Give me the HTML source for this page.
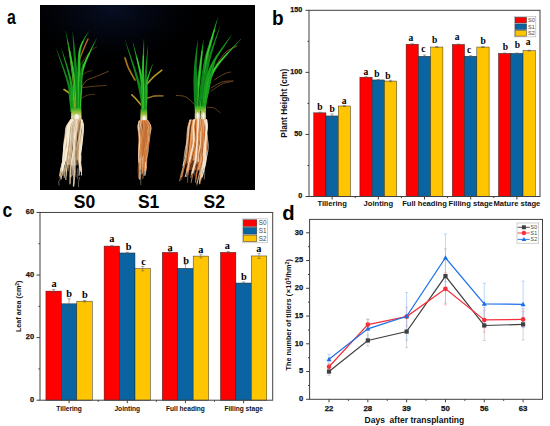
<!DOCTYPE html>
<html><head><meta charset="utf-8"><style>
html,body{margin:0;padding:0;background:#fff;}
svg{display:block;}
</style></head><body>
<svg width="550" height="426" viewBox="0 0 550 426">
<rect width="550" height="426" fill="#fff"/>
<text x="0" y="0" transform="translate(6.90,23.50) scale(0.8,1)" font-family='"Liberation Sans", sans-serif' font-size="19.8" font-weight="bold" fill="#000">a</text>
<text x="0" y="0" transform="translate(271.90,24.60) scale(0.93,1)" font-family='"Liberation Sans", sans-serif' font-size="20.5" font-weight="bold" fill="#000">b</text>
<text x="0" y="0" transform="translate(2.40,217.20) scale(0.9,1)" font-family='"Liberation Sans", sans-serif' font-size="19.5" font-weight="bold" fill="#000">c</text>
<text x="0" y="0" transform="translate(282.30,219.60) scale(1.04,1)" font-family='"Liberation Sans", sans-serif' font-size="19.5" font-weight="bold" fill="#000">d</text>
<rect x="40" y="5" width="215" height="185" fill="#000"/>
<defs><radialGradient id="glow" gradientUnits="userSpaceOnUse" cx="112" cy="8" r="60" gradientTransform="translate(112 8) scale(1.6 1) translate(-112 -8)"><stop offset="0" stop-color="#0a1430" stop-opacity="0.75"/><stop offset="0.5" stop-color="#050a1a" stop-opacity="0.5"/><stop offset="1" stop-color="#000" stop-opacity="0"/></radialGradient><linearGradient id="rootS0" x1="0" y1="0" x2="0" y2="1"><stop offset="0" stop-color="#d8b890"/><stop offset="0.6" stop-color="#c8a078"/><stop offset="1" stop-color="#806048" stop-opacity="0.5"/></linearGradient><linearGradient id="rootOr" x1="0" y1="0" x2="0" y2="1"><stop offset="0" stop-color="#d89a60"/><stop offset="0.6" stop-color="#c88048"/><stop offset="1" stop-color="#905838" stop-opacity="0.5"/></linearGradient><linearGradient id="stemg" x1="0" y1="0" x2="0" y2="1"><stop offset="0" stop-color="#20a020"/><stop offset="0.4" stop-color="#a8cc40"/><stop offset="0.7" stop-color="#e8e0b0"/><stop offset="1" stop-color="#d8b888"/></linearGradient></defs>
<rect x="40" y="5" width="215" height="185" fill="url(#glow)"/>
<path d="M79.60,91.00 L80.08,90.19 L80.69,89.06 L81.42,87.72 L82.24,86.25 L83.13,84.75 L84.07,83.31 L85.03,82.03 L86.00,81.00 L86.97,80.22 L87.97,79.62 L89.00,79.13 L90.07,78.73 L91.20,78.35 L92.39,77.97 L93.65,77.54 L95.00,77.00 L96.55,76.34 L98.33,75.58 L100.26,74.77 L102.21,73.95 L104.10,73.16 L105.81,72.44 L107.24,71.84 L108.30,71.40" stroke="#7a5020" stroke-width="0.9" fill="none" stroke-linecap="round" stroke-linejoin="round" opacity="1.0"/>
<path d="M79.60,88.00 L80.55,87.88 L81.79,87.72 L83.28,87.53 L84.93,87.32 L86.70,87.10 L88.50,86.88 L90.29,86.68 L92.00,86.50 L93.76,86.34 L95.70,86.17 L97.71,86.01 L99.72,85.86 L101.64,85.71 L103.37,85.59 L104.82,85.48 L105.90,85.40" stroke="#7a5020" stroke-width="0.8" fill="none" stroke-linecap="round" stroke-linejoin="round" opacity="1.0"/>
<path d="M80.00,99.00 L80.63,98.67 L81.47,98.20 L82.48,97.64 L83.60,97.04 L84.77,96.43 L85.93,95.85 L87.02,95.36 L88.00,95.00 L88.92,94.76 L89.86,94.60 L90.80,94.50 L91.70,94.45 L92.54,94.43 L93.29,94.43 L93.92,94.42 L94.40,94.40" stroke="#7a5020" stroke-width="0.7" fill="none" stroke-linecap="round" stroke-linejoin="round" opacity="1.0"/>
<path d="M81.00,76.00 L81.47,75.67 L82.10,75.22 L82.86,74.68 L83.69,74.09 L84.57,73.49 L85.44,72.91 L86.26,72.40 L87.00,72.00 L87.70,71.69 L88.42,71.43 L89.13,71.22 L89.83,71.05 L90.47,70.91 L91.05,70.79 L91.53,70.69 L91.90,70.60" stroke="#7a5020" stroke-width="0.7" fill="none" stroke-linecap="round" stroke-linejoin="round" opacity="1.0"/>
<path d="M79.30,60.00 L79.67,59.05 L80.16,57.77 L80.75,56.25 L81.40,54.56 L82.08,52.81 L82.76,51.07 L83.41,49.44 L84.00,48.00 L84.56,46.67 L85.14,45.33 L85.73,44.01 L86.29,42.75 L86.82,41.58 L87.30,40.55 L87.70,39.67 L88.00,39.00" stroke="#b85a1c" stroke-width="1.5" fill="none" stroke-linecap="round" stroke-linejoin="round" opacity="1.0"/>
<path d="M74.60,100.00 L74.16,99.44 L73.58,98.66 L72.88,97.73 L72.11,96.72 L71.30,95.68 L70.49,94.67 L69.71,93.76 L69.00,93.00 L68.31,92.37 L67.59,91.80 L66.86,91.28 L66.15,90.81 L65.48,90.40 L64.88,90.05 L64.38,89.75 L64.00,89.50" stroke="#c0a828" stroke-width="1.6" fill="none" stroke-linecap="round" stroke-linejoin="round" opacity="1.0"/>
<path d="M80.00,65.00 L80.80,63.94 L81.88,62.48 L83.17,60.73 L84.59,58.82 L86.07,56.88 L87.51,55.01 L88.85,53.34 L90.00,52.00 L91.02,50.94 L92.02,50.03 L92.98,49.25 L93.88,48.59 L94.69,48.03 L95.41,47.55 L96.02,47.15 L96.50,46.80" stroke="#7a5020" stroke-width="0.7" fill="none" stroke-linecap="round" stroke-linejoin="round" opacity="1.0"/>
<path d="M72.17,111.95 L72.18,111.05 L72.17,109.88 L72.14,108.49 L72.10,106.92 L72.05,105.23 L71.97,103.46 L71.88,101.65 L71.78,99.90 L71.73,98.27 L71.75,96.70 L71.77,95.09 L71.66,93.34 L71.44,91.41 L71.06,89.20 L70.47,86.65 L69.61,83.67 L68.38,79.93 L66.76,75.36 L64.89,70.29 L62.89,65.03 L60.91,59.90 L59.06,55.22 L57.48,51.31 L56.39,48.47 L56.21,48.53 L57.14,51.43 L58.40,55.45 L59.95,60.24 L61.66,65.47 L63.38,70.82 L65.00,75.97 L66.38,80.58 L67.39,84.33 L68.02,87.27 L68.42,89.73 L68.64,91.80 L68.74,93.59 L68.77,95.21 L68.87,96.77 L69.01,98.37 L69.22,100.10 L69.48,101.90 L69.72,103.67 L69.94,105.41 L70.15,107.08 L70.34,108.62 L70.52,110.00 L70.68,111.16 L70.83,112.05Z" fill="#10861a" opacity="1.0"/>
<path d="M73.63,111.97 L73.65,111.09 L73.67,109.99 L73.68,108.69 L73.68,107.20 L73.66,105.55 L73.62,103.77 L73.57,101.88 L73.50,99.93 L73.45,97.91 L73.44,95.79 L73.42,93.53 L73.29,91.13 L73.07,88.56 L72.73,85.82 L72.24,82.89 L71.56,79.75 L70.60,76.14 L69.36,71.96 L67.94,67.43 L66.43,62.82 L64.92,58.37 L63.52,54.33 L62.31,50.96 L61.50,48.47 L61.30,48.53 L61.99,51.06 L62.90,54.53 L64.01,58.65 L65.25,63.18 L66.51,67.86 L67.69,72.43 L68.70,76.65 L69.44,80.25 L69.93,83.32 L70.25,86.17 L70.44,88.82 L70.56,91.31 L70.63,93.65 L70.76,95.88 L70.91,98.01 L71.10,100.07 L71.32,102.05 L71.51,103.91 L71.69,105.67 L71.85,107.30 L71.99,108.77 L72.13,110.07 L72.25,111.16 L72.37,112.03Z" fill="#17a01c" opacity="1.0"/>
<path d="M75.22,111.99 L75.26,110.64 L75.30,108.79 L75.33,106.59 L75.36,104.18 L75.39,101.67 L75.42,99.22 L75.46,96.95 L75.51,95.02 L75.59,93.49 L75.71,92.23 L75.86,91.11 L76.00,90.01 L76.12,88.82 L76.19,87.46 L76.14,85.83 L75.96,83.83 L75.66,81.41 L75.26,78.65 L74.79,75.62 L74.27,72.43 L73.70,69.16 L73.12,65.91 L72.54,62.78 L71.98,59.84 L71.40,56.94 L70.78,53.91 L70.12,50.87 L69.47,47.90 L68.84,45.13 L68.25,42.65 L67.73,40.57 L67.40,38.98 L67.20,39.02 L67.45,40.62 L67.70,42.75 L68.02,45.28 L68.41,48.10 L68.82,51.10 L69.24,54.18 L69.65,57.24 L70.02,60.16 L70.39,63.11 L70.78,66.28 L71.20,69.54 L71.61,72.82 L72.00,76.02 L72.34,79.04 L72.63,81.79 L72.84,84.17 L72.96,86.08 L73.04,87.58 L73.09,88.80 L73.10,89.87 L73.08,90.90 L73.06,92.03 L73.05,93.36 L73.09,94.98 L73.16,96.96 L73.25,99.24 L73.34,101.69 L73.43,104.20 L73.52,106.62 L73.61,108.82 L73.70,110.66 L73.78,112.01Z" fill="#98ac1e" opacity="1.0"/>
<path d="M76.72,111.99 L76.78,110.73 L76.86,109.08 L76.93,107.13 L77.00,104.92 L77.04,102.53 L77.06,100.02 L77.04,97.45 L76.97,94.91 L76.88,92.43 L76.79,89.98 L76.66,87.47 L76.40,84.85 L76.06,82.04 L75.63,78.97 L75.09,75.59 L74.42,71.80 L73.56,67.25 L72.49,61.86 L71.27,55.95 L69.99,49.88 L68.72,44.00 L67.53,38.64 L66.50,34.16 L65.80,30.88 L65.60,30.92 L66.13,34.23 L66.80,38.78 L67.66,44.20 L68.61,50.14 L69.59,56.26 L70.53,62.21 L71.35,67.64 L71.98,72.20 L72.43,75.98 L72.78,79.35 L73.06,82.39 L73.29,85.16 L73.48,87.75 L73.73,90.21 L73.98,92.64 L74.23,95.09 L74.46,97.60 L74.64,100.12 L74.79,102.59 L74.90,104.95 L75.00,107.14 L75.09,109.09 L75.18,110.73 L75.28,112.01Z" fill="#17a01c" opacity="1.0"/>
<path d="M76.00,112.00 L75.98,110.73 L75.97,109.09 L75.97,107.13 L75.95,104.94 L75.91,102.56 L75.85,100.07 L75.75,97.53 L75.60,95.00 L75.43,92.54 L75.26,90.10 L75.07,87.61 L74.84,85.01 L74.56,82.21 L74.21,79.16 L73.76,75.78 L73.20,72.00 L72.46,67.45 L71.51,62.03 L70.43,56.11 L69.30,50.01" stroke="#48dc3c" stroke-width="1.12" fill="none" opacity="0.75"/>
<path d="M77.87,112.00 L77.95,110.36 L78.03,108.24 L78.12,105.71 L78.21,102.87 L78.27,99.79 L78.31,96.55 L78.32,93.24 L78.28,89.94 L78.20,86.54 L78.07,82.92 L77.89,79.15 L77.60,75.27 L77.26,71.35 L76.90,67.45 L76.53,63.62 L76.16,59.91 L75.76,56.13 L75.32,52.13 L74.86,48.06 L74.38,44.07 L73.91,40.32 L73.47,36.96 L73.06,34.13 L72.80,31.99 L72.60,32.01 L72.70,34.16 L72.77,37.01 L72.90,40.40 L73.07,44.18 L73.26,48.19 L73.46,52.28 L73.66,56.30 L73.84,60.09 L74.02,63.80 L74.22,67.65 L74.44,71.56 L74.67,75.48 L74.90,79.35 L75.20,83.11 L75.48,86.70 L75.72,90.06 L75.90,93.32 L76.05,96.60 L76.16,99.81 L76.24,102.88 L76.31,105.71 L76.38,108.23 L76.45,110.35 L76.53,112.00Z" fill="#10861a" opacity="1.0"/>
<path d="M79.22,112.01 L79.30,110.75 L79.38,109.14 L79.46,107.23 L79.55,105.07 L79.63,102.72 L79.72,100.22 L79.82,97.64 L79.91,95.01 L80.00,92.24 L80.08,89.24 L80.16,86.07 L80.24,82.79 L80.33,79.49 L80.43,76.22 L80.51,73.06 L80.57,70.03 L80.58,67.12 L80.54,64.27 L80.49,61.49 L80.44,58.79 L80.45,56.16 L80.55,53.62 L80.77,51.16 L81.15,48.79 L81.78,46.39 L82.67,43.89 L83.74,41.39 L84.89,38.97 L86.04,36.71 L87.08,34.67 L87.94,32.94 L88.59,31.65 L88.41,31.55 L87.69,32.80 L86.60,34.39 L85.33,36.29 L83.96,38.44 L82.57,40.77 L81.27,43.22 L80.13,45.72 L79.25,48.21 L78.63,50.73 L78.21,53.32 L77.93,55.98 L77.76,58.70 L77.66,61.46 L77.60,64.27 L77.53,67.11 L77.43,69.97 L77.33,72.97 L77.28,76.16 L77.30,79.45 L77.33,82.77 L77.37,86.05 L77.42,89.22 L77.46,92.23 L77.49,94.99 L77.52,97.61 L77.55,100.20 L77.58,102.70 L77.62,105.05 L77.65,107.21 L77.69,109.12 L77.73,110.73 L77.78,111.99Z" fill="#17a01c" opacity="1.0"/>
<path d="M78.50,112.00 L78.51,110.74 L78.53,109.13 L78.56,107.22 L78.58,105.06 L78.61,102.71 L78.64,100.21 L78.67,97.62 L78.70,95.00 L78.73,92.23 L78.75,89.23 L78.77,86.06 L78.79,82.78 L78.82,79.47 L78.86,76.19 L78.92,73.01 L79.00,70.00 L79.06,67.11 L79.07,64.27 L79.07,61.48 L79.10,58.74 L79.19,56.07 L79.38,53.47 L79.70,50.94 L80.20,48.50 L80.95,46.05 L81.97,43.56 L83.16,41.08" stroke="#48dc3c" stroke-width="1.12" fill="none" opacity="0.75"/>
<path d="M80.72,112.02 L80.83,110.76 L80.94,109.16 L81.04,107.26 L81.16,105.11 L81.30,102.77 L81.46,100.29 L81.65,97.71 L81.87,95.05 L82.06,92.28 L82.17,89.39 L82.24,86.39 L82.26,83.29 L82.37,80.10 L82.61,76.81 L83.06,73.44 L83.78,69.99 L84.93,66.15 L86.52,61.80 L88.40,57.18 L90.41,52.52 L92.40,48.05 L94.22,43.99 L95.70,40.56 L96.79,38.04 L96.61,37.96 L95.36,40.40 L93.55,43.66 L91.43,47.57 L89.15,51.91 L86.86,56.45 L84.70,61.00 L82.84,65.32 L81.42,69.21 L80.45,72.82 L79.78,76.35 L79.36,79.80 L79.14,83.13 L79.05,86.33 L79.10,89.38 L79.15,92.26 L79.13,94.95 L79.07,97.57 L79.04,100.19 L79.05,102.70 L79.07,105.06 L79.12,107.22 L79.17,109.13 L79.23,110.73 L79.28,111.98Z" fill="#2cb02a" opacity="1.0"/>
<path d="M80.00,112.00 L80.03,110.75 L80.05,109.14 L80.08,107.24 L80.12,105.09 L80.17,102.74 L80.25,100.24 L80.36,97.64 L80.50,95.00 L80.60,92.27 L80.63,89.39 L80.64,86.36 L80.70,83.21 L80.86,79.95 L81.19,76.58 L81.75,73.13 L82.60,69.60 L83.88,65.73 L85.61,61.40 L87.63,56.82 L89.78,52.21" stroke="#48dc3c" stroke-width="1.12" fill="none" opacity="0.75"/>
<path d="M79.54,112.02 L79.66,110.46 L79.80,108.36 L79.95,105.86 L80.11,103.09 L80.28,100.19 L80.46,97.30 L80.64,94.54 L80.83,92.05 L81.01,89.78 L81.19,87.56 L81.36,85.39 L81.47,83.27 L81.57,81.19 L81.67,79.14 L81.79,77.12 L81.92,75.12 L82.10,73.05 L82.33,70.88 L82.58,68.68 L82.84,66.53 L83.09,64.51 L83.29,62.70 L83.44,61.17 L83.60,60.02 L83.40,59.98 L83.16,61.12 L82.75,62.60 L82.29,64.36 L81.81,66.34 L81.32,68.46 L80.86,70.64 L80.43,72.80 L80.08,74.88 L79.78,76.90 L79.53,78.94 L79.31,81.01 L79.12,83.11 L78.97,85.24 L78.89,87.43 L78.83,89.66 L78.77,91.95 L78.71,94.44 L78.65,97.22 L78.59,100.12 L78.54,103.03 L78.50,105.81 L78.47,108.31 L78.46,110.41 L78.46,111.98Z" fill="#10861a" opacity="1.0"/>
<path d="M71.31,111.99 L71.33,111.05 L71.33,109.78 L71.32,108.27 L71.31,106.60 L71.29,104.86 L71.27,103.11 L71.25,101.46 L71.18,99.97 L71.08,98.55 L70.95,97.10 L70.81,95.64 L70.65,94.23 L70.49,92.91 L70.33,91.74 L70.16,90.75 L70.10,89.99 L69.90,90.01 L69.92,90.76 L69.85,91.76 L69.81,92.95 L69.78,94.27 L69.77,95.69 L69.78,97.15 L69.79,98.62 L69.82,100.03 L69.88,101.52 L70.00,103.17 L70.13,104.91 L70.25,106.65 L70.37,108.31 L70.49,109.81 L70.59,111.08 L70.69,112.01Z" fill="#17a01c" opacity="1.0"/>
<path d="M71.30,107.50 L81.30,107.50 L81.60,120.50 L71.00,120.50 Z" fill="url(#stemg)" opacity="0.95"/>
<ellipse cx="76.80" cy="117.00" rx="2.20" ry="3.04" fill="#ffffff" opacity="0.75"/>
<path d="M147.00,84.00 L147.53,83.41 L148.24,82.62 L149.08,81.68 L150.01,80.64 L151.01,79.55 L152.03,78.47 L153.04,77.43 L154.00,76.50 L154.99,75.61 L156.08,74.69 L157.21,73.77 L158.34,72.88 L159.41,72.05 L160.38,71.30 L161.19,70.68 L161.80,70.20" stroke="#b09a24" stroke-width="1.6" fill="none" stroke-linecap="round" stroke-linejoin="round" opacity="1.0"/>
<path d="M135.00,80.00 L134.48,79.06 L133.76,77.80 L132.91,76.30 L131.97,74.63 L131.00,72.89 L130.07,71.15 L129.21,69.49 L128.50,68.00 L127.90,66.58 L127.33,65.10 L126.81,63.63 L126.34,62.20 L125.92,60.86 L125.56,59.67 L125.25,58.67 L125.00,57.90" stroke="#a8781c" stroke-width="1.7" fill="none" stroke-linecap="round" stroke-linejoin="round" opacity="1.0"/>
<path d="M147.30,98.00 L147.89,97.83 L148.68,97.60 L149.61,97.32 L150.65,97.01 L151.75,96.71 L152.87,96.42 L153.97,96.18 L155.00,96.00 L156.04,95.89 L157.17,95.82 L158.33,95.78 L159.48,95.78 L160.57,95.78 L161.56,95.79 L162.38,95.80 L163.00,95.80" stroke="#b09028" stroke-width="1.3" fill="none" stroke-linecap="round" stroke-linejoin="round" opacity="1.0"/>
<path d="M142.00,106.00 L141.53,105.44 L140.88,104.68 L140.11,103.77 L139.27,102.77 L138.39,101.73 L137.52,100.72 L136.71,99.79 L136.00,99.00 L135.35,98.30 L134.70,97.63 L134.07,97.00 L133.47,96.41 L132.92,95.88 L132.43,95.41 L132.02,95.01 L131.70,94.70" stroke="#b8a028" stroke-width="1.5" fill="none" stroke-linecap="round" stroke-linejoin="round" opacity="1.0"/>
<path d="M147.30,99.00 L147.89,98.71 L148.68,98.29 L149.62,97.79 L150.67,97.25 L151.77,96.71 L152.89,96.21 L153.98,95.79 L155.00,95.50 L156.02,95.33 L157.11,95.25 L158.23,95.24 L159.33,95.28 L160.38,95.35 L161.32,95.42 L162.11,95.48 L162.70,95.50" stroke="#7a5020" stroke-width="0.7" fill="none" stroke-linecap="round" stroke-linejoin="round" opacity="1.0"/>
<path d="M142.63,112.98 L142.65,111.61 L142.68,109.81 L142.71,107.65 L142.71,105.24 L142.68,102.66 L142.59,100.00 L142.43,97.35 L142.19,94.81 L141.88,92.44 L141.53,90.13 L141.12,87.84 L140.57,85.51 L139.91,83.06 L139.15,80.42 L138.26,77.52 L137.24,74.29 L135.97,70.42 L134.41,65.87 L132.69,60.91 L130.88,55.83 L129.11,50.92 L127.47,46.45 L126.07,42.71 L125.10,39.97 L124.90,40.03 L125.75,42.82 L126.86,46.65 L128.21,51.21 L129.72,56.22 L131.27,61.38 L132.76,66.40 L134.09,71.01 L135.16,74.91 L136.00,78.17 L136.73,81.09 L137.36,83.73 L137.91,86.17 L138.40,88.46 L138.90,90.67 L139.37,92.89 L139.81,95.19 L140.19,97.63 L140.49,100.18 L140.71,102.78 L140.89,105.31 L141.02,107.70 L141.14,109.84 L141.25,111.64 L141.37,113.02Z" fill="#10861a" opacity="1.0"/>
<path d="M143.67,112.99 L143.72,111.62 L143.77,109.81 L143.81,107.66 L143.84,105.25 L143.86,102.69 L143.86,100.05 L143.84,97.43 L143.78,94.93 L143.74,92.59 L143.72,90.29 L143.68,87.97 L143.53,85.58 L143.29,83.08 L142.94,80.41 L142.47,77.53 L141.84,74.37 L140.98,70.68 L139.87,66.39 L138.61,61.74 L137.27,57.01 L135.94,52.44 L134.70,48.30 L133.62,44.83 L132.90,42.28 L132.70,42.32 L133.28,44.92 L134.03,48.47 L134.96,52.70 L136.00,57.34 L137.06,62.13 L138.06,66.82 L138.92,71.14 L139.56,74.83 L139.98,77.94 L140.28,80.77 L140.47,83.37 L140.60,85.80 L140.69,88.13 L140.85,90.41 L141.02,92.70 L141.22,95.07 L141.42,97.55 L141.60,100.13 L141.75,102.75 L141.88,105.30 L142.00,107.69 L142.11,109.84 L142.22,111.64 L142.33,113.01Z" fill="#17a01c" opacity="1.0"/>
<path d="M143.00,113.00 L142.97,111.63 L142.94,109.82 L142.91,107.67 L142.86,105.27 L142.80,102.72 L142.73,100.09 L142.63,97.49 L142.50,95.00 L142.38,92.65 L142.28,90.35 L142.19,88.05 L142.06,85.69 L141.88,83.23 L141.61,80.59 L141.23,77.74 L140.70,74.60 L139.95,70.91 L138.97,66.60 L137.84,61.94 L136.64,57.17" stroke="#48dc3c" stroke-width="1.05" fill="none" opacity="0.75"/>
<path d="M144.72,112.99 L144.79,111.62 L144.86,109.82 L144.93,107.67 L145.00,105.27 L145.06,102.70 L145.11,100.07 L145.15,97.46 L145.17,94.95 L145.16,92.58 L145.11,90.32 L145.02,88.08 L144.83,85.81 L144.63,83.40 L144.43,80.79 L144.27,77.88 L144.14,74.62 L144.07,70.66 L144.05,65.96 L144.07,60.83 L144.10,55.55 L144.12,50.43 L144.13,45.77 L144.09,41.86 L144.10,39.00 L143.90,39.00 L143.71,41.84 L143.39,45.74 L143.04,50.39 L142.69,55.50 L142.36,60.77 L142.07,65.90 L141.83,70.61 L141.66,74.58 L141.58,77.90 L141.57,80.86 L141.61,83.54 L141.71,85.99 L141.83,88.30 L142.05,90.53 L142.26,92.75 L142.43,95.05 L142.57,97.52 L142.70,100.11 L142.81,102.73 L142.91,105.28 L143.01,107.68 L143.10,109.83 L143.19,111.63 L143.28,113.01Z" fill="#17a01c" opacity="1.0"/>
<path d="M144.00,113.00 L143.99,111.63 L143.98,109.82 L143.97,107.67 L143.96,105.27 L143.94,102.72 L143.90,100.09 L143.86,97.49 L143.80,95.00 L143.71,92.67 L143.58,90.43 L143.43,88.19 L143.27,85.90 L143.12,83.47 L143.00,80.82 L142.92,77.89 L142.90,74.60 L142.95,70.63 L143.06,65.93 L143.21,60.80 L143.39,55.52" stroke="#48dc3c" stroke-width="1.12" fill="none" opacity="0.75"/>
<path d="M145.63,113.02 L145.74,111.65 L145.87,109.85 L146.00,107.70 L146.15,105.30 L146.29,102.74 L146.43,100.12 L146.57,97.51 L146.70,95.02 L146.81,92.63 L146.89,90.27 L146.94,87.90 L146.91,85.49 L146.88,83.00 L146.85,80.40 L146.85,77.63 L146.88,74.66 L146.98,71.26 L147.13,67.34 L147.33,63.14 L147.53,58.87 L147.72,54.77 L147.88,51.04 L147.98,47.91 L148.10,45.61 L147.90,45.59 L147.65,47.88 L147.24,50.99 L146.78,54.69 L146.31,58.78 L145.84,63.02 L145.40,67.21 L145.02,71.12 L144.72,74.54 L144.50,77.53 L144.34,80.33 L144.24,82.97 L144.17,85.48 L144.15,87.90 L144.20,90.27 L144.26,92.62 L144.30,94.98 L144.31,97.46 L144.32,100.06 L144.32,102.69 L144.32,105.25 L144.32,107.65 L144.32,109.80 L144.34,111.61 L144.37,112.98Z" fill="#10861a" opacity="1.0"/>
<path d="M146.54,113.01 L146.64,111.60 L146.75,109.68 L146.87,107.40 L147.00,104.88 L147.14,102.25 L147.27,99.65 L147.40,97.20 L147.53,95.01 L147.62,93.09 L147.65,91.33 L147.65,89.70 L147.59,88.14 L147.55,86.60 L147.57,85.03 L147.67,83.35 L147.90,81.52 L148.33,79.39 L148.94,76.95 L149.68,74.35 L150.48,71.72 L151.26,69.19 L151.97,66.89 L152.54,64.95 L152.99,63.53 L152.81,63.47 L152.27,64.85 L151.45,66.70 L150.50,68.91 L149.49,71.36 L148.47,73.93 L147.53,76.49 L146.71,78.91 L146.10,81.08 L145.69,83.01 L145.43,84.80 L145.29,86.49 L145.24,88.13 L145.25,89.76 L145.35,91.40 L145.44,93.13 L145.47,94.99 L145.47,97.14 L145.46,99.59 L145.45,102.20 L145.43,104.83 L145.43,107.36 L145.43,109.65 L145.44,111.57 L145.46,112.99Z" fill="#2cb02a" opacity="1.0"/>
<path d="M140.55,109.00 L147.05,109.00 L147.35,122.50 L140.25,122.50 Z" fill="url(#stemg)" opacity="0.95"/>
<ellipse cx="144.12" cy="118.75" rx="1.43" ry="3.23" fill="#ffffff" opacity="0.75"/>
<path d="M211.00,88.00 L211.85,87.50 L212.98,86.80 L214.33,85.97 L215.83,85.06 L217.41,84.15 L219.01,83.29 L220.56,82.55 L222.00,82.00 L223.42,81.63 L224.95,81.38 L226.50,81.21 L228.04,81.12 L229.48,81.08 L230.78,81.06 L231.88,81.04 L232.70,81.00" stroke="#7a5020" stroke-width="0.9" fill="none" stroke-linecap="round" stroke-linejoin="round" opacity="1.0"/>
<path d="M214.00,80.00 L214.79,79.51 L215.88,78.83 L217.17,78.01 L218.59,77.12 L220.06,76.22 L221.50,75.36 L222.84,74.60 L224.00,74.00 L225.03,73.54 L226.04,73.17 L227.01,72.87 L227.93,72.62 L228.76,72.43 L229.49,72.27 L230.11,72.13 L230.60,72.00" stroke="#7a5020" stroke-width="0.8" fill="none" stroke-linecap="round" stroke-linejoin="round" opacity="1.0"/>
<path d="M211.30,91.00 L212.12,90.43 L213.21,89.65 L214.51,88.71 L215.95,87.69 L217.48,86.64 L219.04,85.63 L220.57,84.73 L222.00,84.00 L223.45,83.41 L225.03,82.90 L226.66,82.45 L228.27,82.06 L229.80,81.73 L231.18,81.45 L232.33,81.20 L233.20,81.00" stroke="#7a5020" stroke-width="0.8" fill="none" stroke-linecap="round" stroke-linejoin="round" opacity="1.0"/>
<path d="M196.00,106.00 L195.23,105.25 L194.19,104.21 L192.96,102.95 L191.60,101.59 L190.16,100.22 L188.71,98.93 L187.30,97.83 L186.00,97.00 L184.72,96.44 L183.35,96.06 L181.95,95.82 L180.57,95.69 L179.28,95.62 L178.12,95.59 L177.14,95.56 L176.40,95.50" stroke="#7a5020" stroke-width="0.9" fill="none" stroke-linecap="round" stroke-linejoin="round" opacity="1.0"/>
<path d="M207.30,107.30 L207.82,107.33 L208.52,107.33 L209.35,107.34 L210.28,107.36 L211.24,107.41 L212.22,107.53 L213.15,107.72 L214.00,108.00 L214.82,108.43 L215.69,109.00 L216.56,109.68 L217.42,110.39 L218.22,111.11 L218.94,111.76 L219.54,112.31 L220.00,112.70" stroke="#7a5020" stroke-width="0.8" fill="none" stroke-linecap="round" stroke-linejoin="round" opacity="1.0"/>
<path d="M216.00,65.00 L216.76,63.95 L217.77,62.50 L218.97,60.77 L220.31,58.87 L221.74,56.93 L223.20,55.06 L224.63,53.37 L226.00,52.00 L227.40,50.88 L228.94,49.89 L230.54,49.01 L232.12,48.24 L233.64,47.57 L235.00,46.99 L236.14,46.51 L237.00,46.10" stroke="#7a5020" stroke-width="1.0" fill="none" stroke-linecap="round" stroke-linejoin="round" opacity="1.0"/>
<path d="M206.00,80.00 L206.15,78.27 L206.36,75.93 L206.60,73.14 L206.88,70.06 L207.16,66.85 L207.45,63.66 L207.74,60.66 L208.00,58.00 L208.26,55.52 L208.55,53.00 L208.84,50.51 L209.12,48.12 L209.40,45.91 L209.64,43.94 L209.85,42.28 L210.00,41.00" stroke="#7a5020" stroke-width="1.2" fill="none" stroke-linecap="round" stroke-linejoin="round" opacity="1.0"/>
<path d="M196.22,110.98 L196.26,109.38 L196.27,107.29 L196.27,104.81 L196.26,102.03 L196.26,99.07 L196.28,96.00 L196.31,92.95 L196.37,90.00 L196.45,87.07 L196.54,84.05 L196.63,80.95 L196.63,77.80 L196.64,74.61 L196.65,71.42 L196.68,68.23 L196.74,65.08 L196.84,61.77 L197.01,58.20 L197.22,54.51 L197.43,50.86 L197.63,47.41 L197.79,44.29 L197.89,41.67 L198.00,39.71 L197.80,39.69 L197.51,41.63 L197.06,44.21 L196.55,47.29 L196.03,50.71 L195.52,54.34 L195.03,58.01 L194.61,61.59 L194.26,64.92 L194.00,68.10 L193.78,71.31 L193.62,74.53 L193.50,77.74 L193.43,80.91 L193.48,84.03 L193.55,87.06 L193.63,90.00 L193.73,92.97 L193.86,96.04 L194.01,99.12 L194.17,102.09 L194.34,104.87 L194.50,107.35 L194.65,109.43 L194.78,111.02Z" fill="#10861a" opacity="1.0"/>
<path d="M198.22,111.01 L198.33,109.41 L198.43,107.33 L198.53,104.85 L198.64,102.08 L198.77,99.12 L198.93,96.07 L199.13,93.03 L199.37,90.10 L199.66,87.19 L200.00,84.18 L200.36,81.09 L200.65,77.94 L200.94,74.74 L201.22,71.52 L201.49,68.31 L201.73,65.14 L201.99,61.81 L202.27,58.22 L202.57,54.52 L202.85,50.87 L203.11,47.41 L203.32,44.30 L203.45,41.68 L203.60,39.71 L203.40,39.69 L203.08,41.63 L202.58,44.21 L202.04,47.28 L201.46,50.70 L200.87,54.32 L200.30,57.99 L199.76,61.55 L199.27,64.86 L198.81,68.02 L198.37,71.21 L197.94,74.41 L197.54,77.60 L197.18,80.77 L196.94,83.89 L196.77,86.94 L196.63,89.90 L196.55,92.89 L196.51,95.98 L196.52,99.06 L196.55,102.04 L196.60,104.83 L196.66,107.31 L196.72,109.40 L196.78,110.99Z" fill="#17a01c" opacity="1.0"/>
<path d="M197.50,111.00 L197.52,109.41 L197.54,107.32 L197.56,104.84 L197.59,102.06 L197.64,99.09 L197.72,96.02 L197.84,92.96 L198.00,90.00 L198.21,87.07 L198.47,84.04 L198.77,80.93 L199.09,77.77 L199.44,74.57 L199.79,71.36 L200.15,68.17 L200.50,65.00 L200.87,61.68 L201.29,58.10 L201.72,54.42 L202.16,50.79" stroke="#48dc3c" stroke-width="1.12" fill="none" opacity="0.75"/>
<path d="M200.76,111.05 L200.92,109.48 L201.09,107.48 L201.28,105.11 L201.49,102.44 L201.74,99.54 L202.03,96.48 L202.37,93.33 L202.78,90.15 L203.25,86.80 L203.78,83.13 L204.37,79.27 L205.00,75.29 L205.66,71.31 L206.35,67.43 L207.01,63.75 L207.63,60.35 L208.25,57.24 L208.91,54.30 L209.60,51.50 L210.29,48.80 L210.99,46.16 L211.69,43.55 L212.37,40.93 L213.02,38.28 L213.68,35.50 L214.38,32.55 L215.09,29.56 L215.78,26.63 L216.42,23.87 L216.97,21.39 L217.41,19.30 L217.80,17.73 L217.60,17.67 L217.12,19.21 L216.40,21.23 L215.57,23.63 L214.67,26.32 L213.73,29.18 L212.78,32.11 L211.86,34.99 L210.98,37.72 L210.14,40.30 L209.28,42.83 L208.42,45.38 L207.56,47.99 L206.71,50.68 L205.89,53.49 L205.11,56.47 L204.37,59.65 L203.68,63.11 L203.05,66.86 L202.48,70.80 L201.94,74.83 L201.44,78.85 L200.98,82.76 L200.57,86.45 L200.22,89.85 L199.95,93.07 L199.73,96.27 L199.57,99.38 L199.45,102.31 L199.36,105.01 L199.31,107.39 L199.27,109.40 L199.24,110.95Z" fill="#17a01c" opacity="1.0"/>
<path d="M200.00,111.00 L200.10,109.44 L200.20,107.44 L200.32,105.06 L200.47,102.38 L200.65,99.46 L200.88,96.38 L201.16,93.20 L201.50,90.00 L201.91,86.63 L202.38,82.95 L202.90,79.06 L203.47,75.06 L204.07,71.06 L204.70,67.15 L205.35,63.43 L206.00,60.00 L206.68,56.86 L207.40,53.90 L208.15,51.09 L208.92,48.39 L209.71,45.77 L210.49,43.19 L211.25,40.61 L212.00,38.00 L212.77,35.24 L213.58,32.33 L214.41,29.37" stroke="#48dc3c" stroke-width="1.19" fill="none" opacity="0.75"/>
<path d="M202.72,111.04 L202.89,109.48 L203.06,107.47 L203.24,105.11 L203.45,102.44 L203.70,99.54 L204.01,96.49 L204.39,93.36 L204.86,90.19 L205.39,86.92 L205.97,83.47 L206.59,79.87 L207.18,76.12 L207.82,72.27 L208.52,68.34 L209.31,64.35 L210.19,60.33 L211.29,56.00 L212.63,51.19 L214.12,46.15 L215.66,41.10 L217.15,36.29 L218.48,31.93 L219.57,28.25 L220.39,25.53 L220.21,25.47 L219.21,28.13 L217.78,31.68 L216.12,35.93 L214.33,40.65 L212.50,45.60 L210.74,50.58 L209.14,55.34 L207.81,59.67 L206.70,63.71 L205.72,67.72 L204.86,71.68 L204.10,75.57 L203.44,79.35 L202.94,83.01 L202.52,86.50 L202.14,89.81 L201.83,93.04 L201.61,96.26 L201.45,99.37 L201.36,102.31 L201.31,105.01 L201.29,107.40 L201.29,109.41 L201.28,110.96Z" fill="#10861a" opacity="1.0"/>
<path d="M204.22,111.04 L204.38,109.62 L204.52,107.80 L204.67,105.66 L204.86,103.25 L205.09,100.64 L205.40,97.90 L205.81,95.09 L206.35,92.24 L206.96,89.28 L207.57,86.17 L208.22,82.93 L208.87,79.58 L209.63,76.15 L210.56,72.66 L211.70,69.12 L213.10,65.57 L214.98,61.72 L217.39,57.45 L220.13,52.96 L223.01,48.47 L225.83,44.17 L228.40,40.28 L230.52,36.98 L232.08,34.56 L231.92,34.44 L230.21,36.77 L227.80,39.85 L224.95,43.54 L221.86,47.66 L218.72,52.00 L215.72,56.37 L213.05,60.57 L210.90,64.43 L209.23,68.07 L207.85,71.71 L206.73,75.31 L205.82,78.85 L205.09,82.30 L204.55,85.62 L204.09,88.79 L203.65,91.76 L203.26,94.68 L203.00,97.62 L202.85,100.45 L202.77,103.13 L202.75,105.58 L202.76,107.74 L202.78,109.56 L202.78,110.96Z" fill="#17a01c" opacity="1.0"/>
<path d="M205.72,111.05 L205.88,109.86 L206.01,108.37 L206.15,106.61 L206.32,104.63 L206.55,102.47 L206.87,100.18 L207.28,97.78 L207.85,95.26 L208.45,92.59 L209.01,89.79 L209.58,86.87 L210.17,83.84 L210.93,80.70 L211.93,77.46 L213.27,74.13 L215.02,70.70 L217.51,66.89 L220.77,62.57 L224.52,57.99 L228.48,53.37 L232.39,48.92 L235.96,44.88 L238.92,41.47 L241.07,38.97 L240.93,38.83 L238.64,41.21 L235.42,44.38 L231.60,48.18 L227.45,52.41 L223.25,56.85 L219.26,61.28 L215.75,65.49 L212.98,69.30 L210.91,72.83 L209.30,76.32 L208.07,79.74 L207.14,83.05 L206.45,86.23 L205.98,89.26 L205.58,92.10 L205.15,94.74 L204.75,97.30 L204.47,99.84 L204.31,102.25 L204.24,104.49 L204.23,106.52 L204.25,108.31 L204.27,109.80 L204.28,110.95Z" fill="#2cb02a" opacity="1.0"/>
<path d="M205.00,111.00 L205.07,109.83 L205.13,108.34 L205.19,106.57 L205.28,104.56 L205.43,102.36 L205.67,100.01 L206.02,97.54 L206.50,95.00 L207.02,92.35 L207.50,89.53 L208.02,86.55 L208.66,83.44 L209.50,80.22 L210.61,76.89 L212.09,73.48 L214.00,70.00 L216.63,66.19 L220.01,61.92 L223.88,57.42 L227.97,52.89" stroke="#48dc3c" stroke-width="1.12" fill="none" opacity="0.75"/>
<path d="M197.13,111.00 L197.20,109.80 L197.28,108.22 L197.37,106.35 L197.45,104.25 L197.52,102.00 L197.59,99.65 L197.65,97.29 L197.70,94.98 L197.74,92.64 L197.76,90.14 L197.77,87.54 L197.68,84.90 L197.57,82.27 L197.43,79.70 L197.26,77.24 L197.08,74.95 L196.87,72.73 L196.63,70.49 L196.36,68.30 L196.08,66.20 L195.80,64.27 L195.51,62.55 L195.25,61.11 L195.10,59.99 L194.90,60.01 L194.92,61.13 L194.87,62.60 L194.85,64.34 L194.86,66.30 L194.87,68.40 L194.89,70.60 L194.91,72.84 L194.92,75.05 L194.91,77.33 L194.92,79.78 L194.93,82.35 L194.94,84.97 L194.97,87.60 L195.08,90.19 L195.19,92.68 L195.30,95.02 L195.39,97.31 L195.48,99.66 L195.55,102.00 L195.62,104.25 L195.68,106.34 L195.74,108.21 L195.80,109.79 L195.87,111.00Z" fill="#10861a" opacity="1.0"/>
<path d="M204.62,111.12 L204.91,109.92 L205.28,108.36 L205.69,106.50 L206.15,104.42 L206.64,102.18 L207.15,99.85 L207.67,97.51 L208.18,95.23 L208.70,92.91 L209.23,90.46 L209.76,87.92 L210.22,85.32 L210.68,82.72 L211.13,80.15 L211.59,77.65 L212.05,75.27 L212.56,72.88 L213.13,70.38 L213.74,67.87 L214.34,65.43 L214.90,63.14 L215.39,61.08 L215.77,59.34 L216.10,58.03 L215.90,57.97 L215.45,59.24 L214.77,60.89 L214.00,62.86 L213.16,65.07 L212.31,67.44 L211.46,69.90 L210.66,72.35 L209.95,74.73 L209.30,77.12 L208.68,79.62 L208.09,82.19 L207.53,84.80 L207.01,87.40 L206.59,89.96 L206.20,92.44 L205.82,94.77 L205.45,97.09 L205.07,99.46 L204.70,101.81 L204.35,104.08 L204.03,106.19 L203.76,108.08 L203.53,109.67 L203.38,110.88Z" fill="#17a01c" opacity="1.0"/>
<path d="M199.58,111.05 L199.76,109.85 L199.96,108.28 L200.19,106.42 L200.44,104.33 L200.71,102.08 L201.00,99.75 L201.30,97.41 L201.61,95.13 L201.93,92.83 L202.28,90.43 L202.63,87.95 L202.92,85.41 L203.20,82.83 L203.47,80.25 L203.74,77.67 L204.00,75.14 L204.27,72.50 L204.58,69.65 L204.91,66.73 L205.22,63.84 L205.51,61.10 L205.75,58.64 L205.92,56.57 L206.10,55.02 L205.90,54.98 L205.61,56.52 L205.15,58.55 L204.64,60.97 L204.09,63.66 L203.53,66.52 L202.99,69.41 L202.47,72.23 L202.00,74.86 L201.57,77.38 L201.16,79.94 L200.77,82.52 L200.39,85.09 L200.05,87.63 L199.80,90.13 L199.59,92.55 L199.39,94.87 L199.21,97.19 L199.04,99.56 L198.89,101.91 L198.75,104.17 L198.63,106.28 L198.53,108.16 L198.46,109.74 L198.42,110.95Z" fill="#10861a" opacity="1.0"/>
<path d="M195.00,105.50 L200.00,105.50 L200.30,120.00 L194.70,120.00 Z" fill="url(#stemg)" opacity="0.95"/>
<ellipse cx="197.75" cy="115.75" rx="1.10" ry="3.61" fill="#ffffff" opacity="0.75"/>
<path d="M200.70,105.50 L205.70,105.50 L206.00,120.00 L200.40,120.00 Z" fill="url(#stemg)" opacity="0.95"/>
<ellipse cx="203.45" cy="115.75" rx="1.10" ry="3.61" fill="#ffffff" opacity="0.75"/>
<path d="M71.00,120.00 L67.00,126.00 L66.00,140.00 L66.00,155.00 L68.00,165.00 L78.00,165.00 L80.00,155.00 L82.00,140.00 L83.50,126.00 L82.00,120.00Z" fill="#6a5038" opacity="0.85"/>
<path d="M81.53,120.00 L82.06,121.65 L82.80,124.02 L83.30,126.38 L83.36,128.51 L83.19,130.63 L82.99,132.76 L82.82,134.88 L82.62,137.01 L82.40,139.14 L82.16,141.26 L81.91,143.39 L81.64,145.52 L81.34,147.64 L81.04,149.77 L80.75,151.89 L80.45,154.02 L80.18,156.15 L80.01,158.27 L80.01,160.40 L80.11,162.53 L80.27,164.65 L80.52,167.01 L80.83,169.38 L81.05,171.03" stroke="#f8ecd8" stroke-width="1.23" fill="none" stroke-linecap="round" opacity="0.94"/>
<path d="M72.59,120.00 L71.71,121.79 L70.47,124.36 L69.45,126.92 L68.90,129.23 L68.57,131.54 L68.18,133.85 L67.61,136.15 L66.98,138.46 L66.39,140.77 L65.87,143.08 L65.38,145.39 L64.97,147.69 L64.64,150.00 L64.39,152.31 L64.21,154.62 L64.12,156.93 L64.10,159.23 L64.06,161.54 L63.98,163.85 L63.88,166.16 L63.74,168.46 L63.50,171.03 L63.22,173.59 L63.02,175.39" stroke="#b89068" stroke-width="1.23" fill="none" stroke-linecap="round" opacity="0.88"/>
<path d="M74.47,120.00 L74.01,121.65 L73.37,124.01 L72.89,126.37 L72.75,128.50 L72.79,130.62 L72.81,132.75 L72.77,134.87 L72.71,137.00 L72.62,139.12 L72.48,141.25 L72.30,143.37 L72.06,145.50 L71.73,147.62 L71.33,149.75 L70.91,151.87 L70.47,154.00 L70.00,156.12 L69.58,158.25 L69.21,160.37 L68.87,162.50 L68.61,164.62 L68.45,166.98 L68.36,169.35 L68.31,171.00" stroke="#d8b88c" stroke-width="0.62" fill="none" stroke-linecap="round" opacity="0.86"/>
<path d="M71.98,120.00 L70.85,121.91 L69.28,124.64 L68.01,127.38 L67.37,129.83 L67.02,132.29 L66.69,134.75 L66.27,137.21 L65.87,139.67 L65.51,142.13 L65.23,144.59 L64.99,147.05 L64.78,149.50 L64.60,151.96 L64.45,154.42 L64.26,156.88 L64.03,159.34 L63.77,161.80 L63.45,164.26 L63.07,166.71 L62.64,169.17 L62.23,171.63 L61.83,174.36 L61.45,177.10 L61.19,179.01" stroke="#fbf4e4" stroke-width="0.93" fill="none" stroke-linecap="round" opacity="0.88"/>
<path d="M73.44,120.00 L72.52,121.87 L71.24,124.53 L70.18,127.20 L69.61,129.60 L69.26,132.00 L68.93,134.39 L68.55,136.79 L68.18,139.19 L67.87,141.59 L67.63,143.99 L67.43,146.39 L67.26,148.79 L67.11,151.19 L66.97,153.59 L66.82,155.99 L66.64,158.39 L66.44,160.78 L66.20,163.18 L65.89,165.58 L65.53,167.98 L65.17,170.38 L64.80,173.05 L64.42,175.71 L64.16,177.58" stroke="#e4cca4" stroke-width="1.06" fill="none" stroke-linecap="round" opacity="0.78"/>
<path d="M82.34,120.00 L82.73,121.78 L83.24,124.33 L83.49,126.88 L83.26,129.17 L82.77,131.46 L82.29,133.76 L81.89,136.05 L81.49,138.34 L81.15,140.63 L80.91,142.93 L80.72,145.22 L80.58,147.51 L80.48,149.81 L80.42,152.10 L80.40,154.39 L80.40,156.68 L80.44,158.98 L80.54,161.27 L80.74,163.56 L81.01,165.85 L81.22,168.15 L81.35,170.70 L81.43,173.24 L81.48,175.03" stroke="#fff8ec" stroke-width="1.00" fill="none" stroke-linecap="round" opacity="0.95"/>
<path d="M75.01,120.00 L74.66,121.23 L74.17,122.98 L73.75,124.73 L73.50,126.31 L73.33,127.89 L73.15,129.47 L72.98,131.04 L72.81,132.62 L72.62,134.20 L72.38,135.78 L72.11,137.36 L71.85,138.93 L71.60,140.51 L71.36,142.09 L71.12,143.67 L70.91,145.24 L70.70,146.82 L70.52,148.40 L70.37,149.98 L70.25,151.56 L70.14,153.13 L70.05,154.89 L69.99,156.64 L69.94,157.87" stroke="#f2e6cc" stroke-width="1.53" fill="none" stroke-linecap="round" opacity="0.72"/>
<path d="M75.52,120.00 L74.83,121.43 L73.87,123.47 L73.04,125.51 L72.50,127.35 L72.10,129.19 L71.77,131.03 L71.50,132.86 L71.30,134.70 L71.17,136.54 L71.12,138.38 L71.13,140.21 L71.16,142.05 L71.21,143.89 L71.29,145.73 L71.31,147.57 L71.26,149.40 L71.16,151.24 L70.99,153.08 L70.75,154.92 L70.43,156.75 L70.08,158.59 L69.64,160.63 L69.17,162.67 L68.84,164.10" stroke="#f2e6cc" stroke-width="1.38" fill="none" stroke-linecap="round" opacity="0.78"/>
<path d="M71.74,120.00 L70.93,121.77 L69.81,124.29 L68.94,126.81 L68.60,129.08 L68.52,131.35 L68.35,133.63 L67.98,135.90 L67.53,138.17 L67.05,140.44 L66.56,142.71 L66.04,144.98 L65.55,147.25 L65.07,149.52 L64.61,151.79 L64.22,154.06 L63.92,156.34 L63.70,158.61 L63.49,160.88 L63.29,163.15 L63.12,165.42 L62.96,167.69 L62.81,170.21 L62.68,172.74 L62.59,174.50" stroke="#e4cca4" stroke-width="0.73" fill="none" stroke-linecap="round" opacity="0.91"/>
<path d="M71.20,120.00 L69.84,121.64 L67.95,123.99 L66.47,126.33 L65.80,128.44 L65.52,130.55 L65.33,132.67 L65.10,134.78 L64.95,136.89 L64.87,139.00 L64.87,141.11 L64.94,143.22 L64.99,145.33 L65.00,147.44 L64.98,149.55 L64.90,151.66 L64.73,153.77 L64.49,155.89 L64.14,158.00 L63.65,160.11 L63.04,162.22 L62.40,164.33 L61.68,166.67 L60.94,169.02 L60.41,170.66" stroke="#f2e6cc" stroke-width="1.05" fill="none" stroke-linecap="round" opacity="0.76"/>
<path d="M71.15,120.00 L70.07,121.71 L68.58,124.14 L67.40,126.58 L66.91,128.78 L66.73,130.97 L66.54,133.17 L66.18,135.36 L65.81,137.55 L65.45,139.75 L65.12,141.94 L64.82,144.14 L64.52,146.33 L64.23,148.53 L63.95,150.72 L63.69,152.91 L63.49,155.11 L63.31,157.30 L63.08,159.50 L62.77,161.69 L62.42,163.89 L62.07,166.08 L61.68,168.52 L61.29,170.96 L61.02,172.66" stroke="#f8ecd8" stroke-width="1.60" fill="none" stroke-linecap="round" opacity="0.71"/>
<path d="M72.57,120.00 L71.83,121.20 L70.79,122.91 L69.96,124.62 L69.51,126.16 L69.27,127.70 L69.12,129.24 L69.08,130.78 L69.14,132.32 L69.18,133.86 L69.19,135.40 L69.18,136.94 L69.12,138.48 L69.01,140.01 L68.85,141.55 L68.64,143.09 L68.35,144.63 L68.01,146.17 L67.65,147.71 L67.26,149.25 L66.87,150.79 L66.51,152.33 L66.20,154.04 L65.93,155.75 L65.75,156.95" stroke="#e4cca4" stroke-width="1.59" fill="none" stroke-linecap="round" opacity="0.76"/>
<path d="M74.34,120.00 L73.60,121.38 L72.56,123.34 L71.66,125.31 L71.08,127.08 L70.65,128.85 L70.27,130.62 L69.92,132.39 L69.62,134.16 L69.37,135.93 L69.18,137.70 L69.04,139.47 L68.95,141.24 L68.92,143.00 L68.93,144.77 L68.94,146.54 L68.92,148.31 L68.88,150.08 L68.81,151.85 L68.68,153.62 L68.50,155.39 L68.28,157.16 L67.95,159.13 L67.56,161.09 L67.29,162.47" stroke="#e4cca4" stroke-width="0.67" fill="none" stroke-linecap="round" opacity="0.76"/>
<path d="M78.63,120.00 L78.26,122.14 L77.73,125.19 L77.17,128.24 L76.61,130.99 L76.03,133.73 L75.53,136.48 L75.14,139.23 L74.83,141.97 L74.60,144.72 L74.48,147.47 L74.43,150.22 L74.42,152.96 L74.44,155.71 L74.49,158.46 L74.54,161.20 L74.61,163.95 L74.69,166.70 L74.71,169.44 L74.63,172.19 L74.48,174.94 L74.30,177.68 L74.05,180.74 L73.77,183.79 L73.57,185.92" stroke="#f2e6cc" stroke-width="1.56" fill="none" stroke-linecap="round" opacity="0.85"/>
<path d="M77.72,120.00 L77.54,121.30 L77.29,123.16 L77.01,125.01 L76.71,126.69 L76.40,128.36 L76.07,130.03 L75.74,131.70 L75.40,133.37 L75.09,135.04 L74.80,136.71 L74.53,138.39 L74.32,140.06 L74.20,141.73 L74.12,143.40 L74.07,145.07 L74.04,146.74 L74.04,148.41 L74.02,150.09 L73.99,151.76 L73.95,153.43 L73.88,155.10 L73.74,156.96 L73.56,158.81 L73.44,160.11" stroke="#f2e6cc" stroke-width="1.42" fill="none" stroke-linecap="round" opacity="0.77"/>
<path d="M72.45,120.00 L71.35,121.45 L69.83,123.52 L68.56,125.58 L67.87,127.45 L67.44,129.31 L67.09,131.17 L66.75,133.03 L66.49,134.89 L66.29,136.75 L66.17,138.61 L66.12,140.47 L66.10,142.34 L66.12,144.20 L66.17,146.06 L66.18,147.92 L66.14,149.78 L66.06,151.64 L65.92,153.50 L65.72,155.37 L65.45,157.23 L65.11,159.09 L64.59,161.16 L64.00,163.22 L63.57,164.67" stroke="#f8ecd8" stroke-width="0.65" fill="none" stroke-linecap="round" opacity="0.73"/>
<path d="M75.98,120.00 L75.67,121.84 L75.23,124.48 L74.88,127.11 L74.71,129.48 L74.62,131.85 L74.54,134.22 L74.42,136.59 L74.30,138.96 L74.16,141.33 L74.00,143.70 L73.81,146.07 L73.58,148.44 L73.27,150.82 L72.90,153.19 L72.53,155.56 L72.15,157.93 L71.76,160.30 L71.42,162.67 L71.13,165.04 L70.88,167.41 L70.69,169.78 L70.60,172.41 L70.57,175.05 L70.55,176.89" stroke="#fbf4e4" stroke-width="1.42" fill="none" stroke-linecap="round" opacity="0.88"/>
<path d="M73.87,120.00 L73.16,121.93 L72.17,124.68 L71.38,127.44 L71.01,129.92 L70.84,132.40 L70.68,134.88 L70.47,137.36 L70.27,139.84 L70.07,142.32 L69.87,144.80 L69.66,147.27 L69.43,149.75 L69.16,152.23 L68.86,154.71 L68.54,157.19 L68.17,159.67 L67.78,162.15 L67.40,164.63 L67.01,167.11 L66.63,169.59 L66.31,172.07 L66.09,174.82 L65.93,177.58 L65.83,179.51" stroke="#f2e6cc" stroke-width="1.08" fill="none" stroke-linecap="round" opacity="0.90"/>
<path d="M78.87,120.00 L78.62,122.05 L78.26,124.98 L77.82,127.90 L77.26,130.54 L76.62,133.17 L75.98,135.81 L75.38,138.44 L74.78,141.08 L74.28,143.71 L73.89,146.35 L73.60,148.98 L73.39,151.62 L73.28,154.25 L73.27,156.89 L73.33,159.52 L73.51,162.16 L73.78,164.79 L74.00,167.43 L74.16,170.06 L74.28,172.70 L74.34,175.33 L74.28,178.26 L74.16,181.19 L74.06,183.24" stroke="#b89068" stroke-width="0.62" fill="none" stroke-linecap="round" opacity="0.78"/>
<path d="M76.47,120.00 L75.99,122.07 L75.31,125.02 L74.68,127.98 L74.17,130.63 L73.70,133.29 L73.24,135.95 L72.75,138.61 L72.27,141.27 L71.84,143.93 L71.47,146.59 L71.15,149.24 L70.89,151.90 L70.68,154.56 L70.53,157.22 L70.42,159.88 L70.35,162.54 L70.33,165.20 L70.30,167.85 L70.25,170.51 L70.19,173.17 L70.13,175.83 L70.05,178.78 L69.97,181.74 L69.91,183.81" stroke="#d8b88c" stroke-width="1.57" fill="none" stroke-linecap="round" opacity="0.73"/>
<path d="M71.26,120.00 L70.38,121.53 L69.17,123.72 L68.25,125.90 L67.92,127.87 L67.88,129.84 L67.78,131.81 L67.51,133.78 L67.18,135.75 L66.82,137.71 L66.43,139.68 L66.00,141.65 L65.58,143.62 L65.17,145.59 L64.77,147.55 L64.42,149.52 L64.13,151.49 L63.88,153.46 L63.68,155.43 L63.55,157.39 L63.47,159.36 L63.37,161.33 L63.21,163.52 L63.03,165.70 L62.91,167.24" stroke="#f8ecd8" stroke-width="1.56" fill="none" stroke-linecap="round" opacity="0.71"/>
<path d="M77.42,120.00 L77.32,121.63 L77.18,123.95 L77.05,126.27 L76.95,128.36 L76.86,130.45 L76.77,132.54 L76.68,134.64 L76.57,136.73 L76.45,138.82 L76.31,140.91 L76.15,143.00 L75.94,145.09 L75.68,147.18 L75.37,149.27 L75.05,151.36 L74.70,153.45 L74.34,155.54 L74.02,157.63 L73.77,159.72 L73.57,161.81 L73.43,163.91 L73.38,166.23 L73.40,168.55 L73.41,170.18" stroke="#e4cca4" stroke-width="0.68" fill="none" stroke-linecap="round" opacity="0.86"/>
<path d="M78.18,120.00 L78.26,121.27 L78.39,123.09 L78.51,124.91 L78.63,126.55 L78.76,128.18 L78.85,129.82 L78.92,131.46 L78.97,133.09 L78.95,134.73 L78.84,136.37 L78.67,138.00 L78.44,139.64 L78.15,141.28 L77.80,142.91 L77.43,144.55 L77.03,146.19 L76.61,147.82 L76.23,149.46 L75.90,151.10 L75.63,152.74 L75.43,154.37 L75.34,156.19 L75.33,158.01 L75.33,159.28" stroke="#caa474" stroke-width="0.95" fill="none" stroke-linecap="round" opacity="0.91"/>
<path d="M81.41,120.00 L81.42,121.30 L81.42,123.15 L81.33,125.00 L81.08,126.67 L80.74,128.33 L80.45,130.00 L80.26,131.67 L80.11,133.33 L80.04,135.00 L80.05,136.67 L80.14,138.33 L80.25,140.00 L80.40,141.67 L80.57,143.33 L80.68,145.00 L80.70,146.67 L80.66,148.33 L80.54,150.00 L80.31,151.67 L80.00,153.33 L79.64,155.00 L79.20,156.85 L78.72,158.70 L78.38,160.00" stroke="#fbf4e4" stroke-width="1.17" fill="none" stroke-linecap="round" opacity="0.89"/>
<path d="M74.97,120.00 L74.40,121.54 L73.60,123.73 L72.96,125.93 L72.64,127.90 L72.47,129.88 L72.32,131.86 L72.16,133.83 L72.01,135.81 L71.87,137.79 L71.75,139.76 L71.64,141.74 L71.50,143.71 L71.34,145.69 L71.17,147.67 L70.96,149.64 L70.72,151.62 L70.44,153.59 L70.17,155.57 L69.88,157.55 L69.58,159.52 L69.30,161.50 L69.03,163.70 L68.77,165.89 L68.59,167.43" stroke="#b89068" stroke-width="0.72" fill="none" stroke-linecap="round" opacity="0.78"/>
<path d="M81.59,120.00 L82.11,121.66 L82.81,124.04 L83.28,126.42 L83.31,128.56 L83.12,130.70 L82.90,132.84 L82.72,134.98 L82.53,137.12 L82.32,139.26 L82.10,141.40 L81.88,143.54 L81.64,145.68 L81.38,147.82 L81.10,149.96 L80.83,152.09 L80.55,154.23 L80.28,156.37 L80.12,158.51 L80.11,160.65 L80.21,162.79 L80.36,164.93 L80.59,167.31 L80.86,169.69 L81.06,171.35" stroke="#fff8ec" stroke-width="0.91" fill="none" stroke-linecap="round" opacity="0.73"/>
<path d="M71.90,120.00 L71.16,121.23 L70.12,122.98 L69.19,124.74 L68.53,126.31 L67.99,127.89 L67.47,129.47 L66.94,131.05 L66.43,132.63 L65.94,134.21 L65.45,135.78 L64.98,137.36 L64.61,138.94 L64.36,140.52 L64.21,142.10 L64.13,143.68 L64.15,145.25 L64.25,146.83 L64.37,148.41 L64.50,149.99 L64.65,151.57 L64.74,153.15 L64.72,154.90 L64.65,156.65 L64.60,157.88" stroke="#b89068" stroke-width="1.52" fill="none" stroke-linecap="round" opacity="0.78"/>
<path d="M70.69,120.00 L69.51,121.80 L67.87,124.36 L66.62,126.93 L66.14,129.24 L66.04,131.55 L65.96,133.87 L65.77,136.18 L65.59,138.49 L65.41,140.80 L65.26,143.11 L65.10,145.42 L64.90,147.73 L64.65,150.04 L64.36,152.35 L64.03,154.66 L63.65,156.97 L63.24,159.28 L62.77,161.60 L62.23,163.91 L61.63,166.22 L61.08,168.53 L60.57,171.10 L60.10,173.66 L59.77,175.46" stroke="#f2e6cc" stroke-width="1.35" fill="none" stroke-linecap="round" opacity="0.80"/>
<path d="M81.90,120.00 L82.20,121.61 L82.60,123.91 L82.77,126.22 L82.51,128.29 L82.01,130.36 L81.53,132.43 L81.12,134.50 L80.71,136.58 L80.38,138.65 L80.13,140.72 L79.95,142.79 L79.83,144.87 L79.77,146.94 L79.77,149.01 L79.79,151.08 L79.81,153.15 L79.84,155.23 L79.88,157.30 L79.95,159.37 L80.04,161.44 L80.11,163.51 L80.15,165.82 L80.17,168.12 L80.18,169.73" stroke="#caa474" stroke-width="0.80" fill="none" stroke-linecap="round" opacity="0.83"/>
<path d="M79.42,120.00 L79.68,121.26 L80.04,123.06 L80.31,124.87 L80.43,126.49 L80.47,128.11 L80.43,129.73 L80.32,131.36 L80.15,132.98 L79.92,134.60 L79.63,136.22 L79.29,137.85 L78.95,139.47 L78.62,141.09 L78.29,142.71 L77.99,144.34 L77.73,145.96 L77.50,147.58 L77.32,149.20 L77.21,150.83 L77.16,152.45 L77.14,154.07 L77.17,155.87 L77.24,157.68 L77.29,158.94" stroke="#d8b88c" stroke-width="1.52" fill="none" stroke-linecap="round" opacity="0.76"/>
<path d="M71.29,120.00 L70.44,121.43 L69.25,123.47 L68.31,125.51 L67.89,127.34 L67.72,129.18 L67.53,131.01 L67.24,132.85 L66.92,134.68 L66.59,136.52 L66.21,138.35 L65.81,140.19 L65.44,142.02 L65.10,143.86 L64.78,145.69 L64.50,147.53 L64.26,149.36 L64.07,151.20 L63.91,153.03 L63.83,154.87 L63.79,156.70 L63.72,158.54 L63.58,160.58 L63.40,162.62 L63.28,164.04" stroke="#fff8ec" stroke-width="1.05" fill="none" stroke-linecap="round" opacity="0.78"/>
<path d="M72.83,120.00 L71.93,121.69 L70.68,124.10 L69.72,126.51 L69.34,128.69 L69.25,130.86 L69.19,133.03 L69.09,135.20 L69.02,137.37 L68.95,139.54 L68.91,141.71 L68.87,143.88 L68.77,146.06 L68.60,148.23 L68.36,150.40 L68.07,152.57 L67.73,154.74 L67.34,156.91 L66.90,159.08 L66.42,161.25 L65.89,163.43 L65.41,165.60 L64.96,168.01 L64.56,170.42 L64.28,172.11" stroke="#caa474" stroke-width="1.32" fill="none" stroke-linecap="round" opacity="0.95"/>
<path d="M77.39,120.00 L77.32,121.78 L77.22,124.32 L77.11,126.86 L77.00,129.15 L76.89,131.43 L76.74,133.72 L76.56,136.00 L76.35,138.29 L76.12,140.58 L75.88,142.86 L75.61,145.15 L75.31,147.44 L74.97,149.72 L74.61,152.01 L74.26,154.30 L73.93,156.58 L73.62,158.87 L73.39,161.15 L73.26,163.44 L73.20,165.73 L73.19,168.01 L73.22,170.55 L73.29,173.09 L73.35,174.87" stroke="#d8b88c" stroke-width="0.64" fill="none" stroke-linecap="round" opacity="0.91"/>
<path d="M76.97,120.00 L76.76,121.79 L76.45,124.35 L76.18,126.90 L75.97,129.20 L75.80,131.50 L75.61,133.80 L75.40,136.10 L75.17,138.41 L74.95,140.71 L74.74,143.01 L74.52,145.31 L74.29,147.61 L74.02,149.91 L73.73,152.21 L73.44,154.51 L73.16,156.81 L72.89,159.11 L72.66,161.41 L72.50,163.71 L72.38,166.01 L72.28,168.31 L72.21,170.87 L72.17,173.43 L72.14,175.22" stroke="#f2e6cc" stroke-width="1.01" fill="none" stroke-linecap="round" opacity="0.76"/>
<path d="M78.46,120.00 L78.64,121.83 L78.90,124.45 L79.09,127.07 L79.17,129.42 L79.18,131.78 L79.16,134.13 L79.13,136.49 L79.08,138.85 L78.96,141.20 L78.78,143.56 L78.54,145.91 L78.22,148.27 L77.81,150.62 L77.33,152.98 L76.87,155.33 L76.43,157.69 L76.01,160.05 L75.70,162.40 L75.53,164.76 L75.48,167.11 L75.51,169.47 L75.67,172.09 L75.92,174.70 L76.09,176.54" stroke="#b89068" stroke-width="0.72" fill="none" stroke-linecap="round" opacity="0.73"/>
<path d="M72.54,120.00 L71.58,121.45 L70.24,123.52 L69.12,125.59 L68.47,127.46 L68.03,129.32 L67.61,131.18 L67.12,133.05 L66.65,134.91 L66.23,136.78 L65.88,138.64 L65.58,140.50 L65.35,142.37 L65.23,144.23 L65.18,146.10 L65.16,147.96 L65.17,149.82 L65.22,151.69 L65.24,153.55 L65.25,155.42 L65.24,157.28 L65.12,159.14 L64.81,161.22 L64.39,163.29 L64.09,164.74" stroke="#fff8ec" stroke-width="1.36" fill="none" stroke-linecap="round" opacity="0.86"/>
<path d="M70.62,120.00 L69.58,121.87 L68.13,124.55 L67.05,127.23 L66.70,129.64 L66.72,132.04 L66.71,134.45 L66.57,136.86 L66.41,139.27 L66.21,141.68 L65.97,144.09 L65.69,146.50 L65.36,148.91 L64.97,151.31 L64.53,153.72 L64.04,156.13 L63.52,158.54 L62.95,160.95 L62.40,163.36 L61.84,165.77 L61.29,168.18 L60.85,170.58 L60.54,173.26 L60.33,175.94 L60.20,177.81" stroke="#d8b88c" stroke-width="1.10" fill="none" stroke-linecap="round" opacity="1.00"/>
<path d="M72.27,120.00 L71.53,121.31 L70.51,123.19 L69.69,125.07 L69.31,126.76 L69.14,128.45 L69.01,130.14 L68.90,131.83 L68.83,133.52 L68.73,135.21 L68.57,136.90 L68.38,138.59 L68.18,140.28 L67.95,141.97 L67.71,143.66 L67.45,145.35 L67.15,147.04 L66.83,148.73 L66.52,150.42 L66.24,152.11 L65.97,153.80 L65.74,155.49 L65.55,157.36 L65.39,159.24 L65.28,160.56" stroke="#fbf4e4" stroke-width="1.53" fill="none" stroke-linecap="round" opacity="0.92"/>
<path d="M71.64,120.00 L70.57,121.65 L69.09,124.01 L67.98,126.37 L67.60,128.50 L67.59,130.62 L67.62,132.75 L67.62,134.87 L67.67,136.99 L67.71,139.12 L67.75,141.24 L67.79,143.37 L67.74,145.49 L67.57,147.62 L67.33,149.74 L67.00,151.86 L66.58,153.99 L66.09,156.11 L65.55,158.24 L64.95,160.36 L64.30,162.49 L63.71,164.61 L63.17,166.97 L62.68,169.33 L62.35,170.98" stroke="#fbf4e4" stroke-width="1.15" fill="none" stroke-linecap="round" opacity="0.90"/>
<path d="M77.02,120.00 L76.62,121.34 L76.05,123.25 L75.52,125.16 L75.08,126.88 L74.68,128.60 L74.32,130.32 L74.01,132.04 L73.74,133.76 L73.52,135.48 L73.36,137.20 L73.25,138.92 L73.19,140.64 L73.19,142.37 L73.23,144.09 L73.25,145.81 L73.25,147.53 L73.22,149.25 L73.15,150.97 L73.02,152.69 L72.84,154.41 L72.62,156.13 L72.33,158.04 L71.99,159.95 L71.75,161.29" stroke="#f2e6cc" stroke-width="0.70" fill="none" stroke-linecap="round" opacity="0.96"/>
<path d="M72.07,120.00 L71.57,121.27 L70.86,123.09 L70.27,124.91 L69.95,126.55 L69.73,128.18 L69.47,129.82 L69.11,131.46 L68.71,133.10 L68.25,134.73 L67.70,136.37 L67.10,138.01 L66.55,139.64 L66.08,141.28 L65.66,142.92 L65.33,144.55 L65.12,146.19 L65.00,147.83 L64.97,149.47 L65.04,151.10 L65.19,152.74 L65.36,154.38 L65.53,156.20 L65.72,158.01 L65.85,159.29" stroke="#f8ecd8" stroke-width="0.86" fill="none" stroke-linecap="round" opacity="0.92"/>
<path d="M71.31,120.00 L70.30,121.61 L68.89,123.90 L67.78,126.19 L67.30,128.26 L67.12,130.32 L66.89,132.39 L66.49,134.45 L66.03,136.52 L65.59,138.58 L65.18,140.65 L64.77,142.71 L64.40,144.78 L64.08,146.84 L63.80,148.91 L63.57,150.97 L63.41,153.04 L63.30,155.10 L63.19,157.16 L63.07,159.23 L62.94,161.29 L62.77,163.36 L62.50,165.65 L62.18,167.95 L61.96,169.55" stroke="#fbf4e4" stroke-width="1.37" fill="none" stroke-linecap="round" opacity="0.85"/>
<path d="M71.71,120.00 L70.95,121.35 L69.88,123.27 L68.97,125.19 L68.44,126.92 L68.07,128.66 L67.67,130.39 L67.18,132.12 L66.66,133.85 L66.15,135.58 L65.62,137.31 L65.08,139.04 L64.63,140.77 L64.30,142.51 L64.05,144.24 L63.89,145.97 L63.82,147.70 L63.84,149.43 L63.90,151.16 L64.02,152.89 L64.17,154.62 L64.27,156.36 L64.28,158.28 L64.23,160.20 L64.19,161.55" stroke="#f2e6cc" stroke-width="1.13" fill="none" stroke-linecap="round" opacity="0.91"/>
<path d="M81.07,120.00 L81.64,121.64 L82.43,123.97 L82.95,126.31 L82.99,128.42 L82.77,130.52 L82.47,132.63 L82.10,134.73 L81.65,136.83 L81.17,138.94 L80.67,141.04 L80.15,143.15 L79.68,145.25 L79.26,147.36 L78.88,149.46 L78.60,151.56 L78.40,153.67 L78.30,155.77 L78.33,157.88 L78.54,159.98 L78.87,162.09 L79.23,164.19 L79.63,166.53 L80.07,168.87 L80.37,170.50" stroke="#d8b88c" stroke-width="1.44" fill="none" stroke-linecap="round" opacity="0.91"/>
<path d="M81.28,120.00 L81.75,121.62 L82.38,123.93 L82.79,126.24 L82.77,128.31 L82.54,130.39 L82.27,132.47 L82.03,134.55 L81.76,136.63 L81.48,138.71 L81.20,140.79 L80.92,142.87 L80.65,144.94 L80.38,147.02 L80.13,149.10 L79.90,151.18 L79.69,153.26 L79.50,155.34 L79.40,157.42 L79.40,159.50 L79.49,161.57 L79.63,163.65 L79.84,165.96 L80.09,168.27 L80.28,169.89" stroke="#f2e6cc" stroke-width="1.04" fill="none" stroke-linecap="round" opacity="0.87"/>
<path d="M81.62,120.00 L81.66,121.79 L81.71,124.34 L81.59,126.89 L81.16,129.19 L80.57,131.49 L80.06,133.78 L79.71,136.08 L79.43,138.38 L79.26,140.68 L79.23,142.97 L79.30,145.27 L79.41,147.57 L79.53,149.86 L79.67,152.16 L79.78,154.46 L79.84,156.76 L79.86,159.05 L79.86,161.35 L79.86,163.65 L79.85,165.95 L79.78,168.24 L79.59,170.80 L79.35,173.35 L79.17,175.13" stroke="#fff8ec" stroke-width="0.90" fill="none" stroke-linecap="round" opacity="0.74"/>
<path d="M67.04,165.80 Q66.51,170.79 66.77,175.78" stroke="#e8e0d0" stroke-width="0.5" fill="none" opacity="0.8"/>
<path d="M63.75,153.31 Q63.98,157.82 63.87,162.33" stroke="#e8e0d0" stroke-width="0.5" fill="none" opacity="0.8"/>
<path d="M79.73,151.27 Q82.66,156.45 81.19,161.63" stroke="#e8e0d0" stroke-width="0.5" fill="none" opacity="0.8"/>
<path d="M65.26,153.54 Q67.85,157.20 66.56,160.87" stroke="#e8e0d0" stroke-width="0.5" fill="none" opacity="0.8"/>
<path d="M79.26,163.31 Q78.69,169.51 78.98,175.71" stroke="#e8e0d0" stroke-width="0.5" fill="none" opacity="0.8"/>
<path d="M71.88,157.14 Q74.28,161.50 73.08,165.86" stroke="#e8e0d0" stroke-width="0.5" fill="none" opacity="0.8"/>
<path d="M79.85,177.13 Q77.50,182.23 78.67,187.33" stroke="#e8e0d0" stroke-width="0.5" fill="none" opacity="0.8"/>
<path d="M63.10,162.17 Q64.31,166.21 63.70,170.25" stroke="#e8e0d0" stroke-width="0.5" fill="none" opacity="0.8"/>
<path d="M60.50,178.34 Q57.57,181.96 59.04,185.59" stroke="#e8e0d0" stroke-width="0.5" fill="none" opacity="0.8"/>
<path d="M75.81,158.24 Q75.80,162.22 75.80,166.19" stroke="#e8e0d0" stroke-width="0.5" fill="none" opacity="0.8"/>
<path d="M72.99,164.49 Q73.73,170.90 73.36,177.31" stroke="#e8e0d0" stroke-width="0.5" fill="none" opacity="0.8"/>
<path d="M75.13,170.81 Q72.27,177.33 73.70,183.84" stroke="#e8e0d0" stroke-width="0.5" fill="none" opacity="0.8"/>
<path d="M77.61,168.36 Q77.84,173.82 77.72,179.28" stroke="#e8e0d0" stroke-width="0.5" fill="none" opacity="0.8"/>
<path d="M71.48,175.05 Q69.78,178.92 70.63,182.80" stroke="#e8e0d0" stroke-width="0.5" fill="none" opacity="0.8"/>
<path d="M139.50,121.00 L138.00,126.00 L139.00,140.00 L139.50,160.00 L140.50,170.00 L144.00,170.00 L145.50,160.00 L148.50,140.00 L150.50,126.00 L147.50,121.00Z" fill="#7a4820" opacity="0.85"/>
<path d="M141.01,121.00 L140.64,122.88 L140.12,125.56 L139.73,128.25 L139.57,130.66 L139.54,133.08 L139.52,135.49 L139.46,137.91 L139.42,140.33 L139.40,142.74 L139.41,145.16 L139.43,147.57 L139.50,149.99 L139.62,152.40 L139.78,154.82 L139.93,157.24 L140.05,159.65 L140.15,162.07 L140.20,164.48 L140.17,166.90 L140.09,169.31 L140.00,171.73 L139.93,174.41 L139.85,177.10 L139.79,178.98" stroke="#fff8ec" stroke-width="1.33" fill="none" stroke-linecap="round" opacity="0.78"/>
<path d="M139.38,121.00 L139.04,122.32 L138.57,124.22 L138.29,126.11 L138.38,127.81 L138.65,129.52 L138.90,131.22 L139.04,132.92 L139.16,134.63 L139.23,136.33 L139.26,138.03 L139.24,139.74 L139.20,141.44 L139.10,143.15 L138.97,144.85 L138.86,146.55 L138.78,148.26 L138.74,149.96 L138.72,151.66 L138.75,153.37 L138.81,155.07 L138.88,156.77 L138.97,158.67 L139.08,160.56 L139.15,161.88" stroke="#e8a060" stroke-width="1.10" fill="none" stroke-linecap="round" opacity="0.71"/>
<path d="M144.04,121.00 L144.49,122.47 L145.10,124.58 L145.55,126.68 L145.69,128.58 L145.66,130.47 L145.61,132.36 L145.62,134.26 L145.60,136.15 L145.55,138.04 L145.43,139.94 L145.27,141.83 L145.07,143.73 L144.83,145.62 L144.55,147.51 L144.27,149.41 L143.98,151.30 L143.68,153.19 L143.43,155.09 L143.20,156.98 L143.01,158.88 L142.89,160.77 L142.86,162.87 L142.90,164.98 L142.94,166.45" stroke="#d07838" stroke-width="1.19" fill="none" stroke-linecap="round" opacity="0.90"/>
<path d="M145.22,121.00 L145.33,122.07 L145.47,123.60 L145.50,125.13 L145.32,126.51 L145.03,127.89 L144.77,129.27 L144.58,130.65 L144.43,132.02 L144.36,133.40 L144.40,134.78 L144.52,136.16 L144.66,137.54 L144.85,138.91 L145.07,140.29 L145.24,141.67 L145.35,143.05 L145.43,144.43 L145.42,145.81 L145.31,147.18 L145.12,148.56 L144.86,149.94 L144.49,151.47 L144.06,153.00 L143.75,154.07" stroke="#e08c48" stroke-width="1.57" fill="none" stroke-linecap="round" opacity="0.78"/>
<path d="M146.87,121.00 L147.82,122.36 L149.12,124.31 L150.03,126.25 L150.18,128.00 L149.95,129.75 L149.70,131.50 L149.55,133.25 L149.37,135.00 L149.17,136.75 L148.91,138.50 L148.62,140.25 L148.32,142.00 L147.98,143.75 L147.63,145.50 L147.29,147.25 L146.95,149.00 L146.62,150.75 L146.33,152.50 L146.07,154.25 L145.84,156.00 L145.68,157.75 L145.61,159.69 L145.60,161.63 L145.61,162.99" stroke="#f8e4cc" stroke-width="1.19" fill="none" stroke-linecap="round" opacity="0.83"/>
<path d="M146.61,121.00 L147.21,122.28 L148.02,124.12 L148.54,125.96 L148.50,127.61 L148.17,129.26 L147.90,130.91 L147.82,132.56 L147.80,134.22 L147.81,135.87 L147.84,137.52 L147.90,139.17 L147.92,140.83 L147.91,142.48 L147.85,144.13 L147.73,145.78 L147.52,147.43 L147.25,149.09 L146.92,150.74 L146.53,152.39 L146.10,154.04 L145.68,155.69 L145.26,157.53 L144.86,159.37 L144.58,160.65" stroke="#fff8ec" stroke-width="1.03" fill="none" stroke-linecap="round" opacity="0.87"/>
<path d="M146.81,121.00 L147.54,122.60 L148.54,124.89 L149.20,127.17 L149.19,129.23 L148.84,131.29 L148.52,133.35 L148.34,135.41 L148.19,137.46 L148.04,139.52 L147.90,141.58 L147.77,143.64 L147.60,145.70 L147.40,147.76 L147.17,149.81 L146.91,151.87 L146.60,153.93 L146.25,155.99 L145.94,158.05 L145.67,160.10 L145.43,162.16 L145.22,164.22 L145.06,166.51 L144.93,168.79 L144.84,170.39" stroke="#e08c48" stroke-width="1.14" fill="none" stroke-linecap="round" opacity="0.97"/>
<path d="M143.83,121.00 L144.05,122.66 L144.33,125.03 L144.47,127.39 L144.36,129.52 L144.10,131.65 L143.82,133.79 L143.53,135.92 L143.21,138.05 L142.90,140.18 L142.60,142.31 L142.32,144.44 L142.10,146.57 L141.98,148.70 L141.94,150.83 L141.94,152.96 L142.01,155.09 L142.13,157.23 L142.27,159.36 L142.42,161.49 L142.59,163.62 L142.69,165.75 L142.70,168.12 L142.64,170.48 L142.60,172.14" stroke="#d07838" stroke-width="1.31" fill="none" stroke-linecap="round" opacity="0.95"/>
<path d="M140.99,121.00 L141.06,122.38 L141.16,124.36 L141.30,126.33 L141.50,128.11 L141.73,129.89 L141.89,131.66 L141.96,133.44 L141.95,135.22 L141.88,136.99 L141.72,138.77 L141.49,140.55 L141.24,142.33 L140.96,144.10 L140.66,145.88 L140.41,147.66 L140.23,149.43 L140.11,151.21 L140.05,152.99 L140.09,154.77 L140.19,156.54 L140.32,158.32 L140.50,160.29 L140.72,162.27 L140.87,163.65" stroke="#f8e4cc" stroke-width="0.77" fill="none" stroke-linecap="round" opacity="0.99"/>
<path d="M140.10,121.00 L139.94,122.49 L139.74,124.61 L139.63,126.73 L139.73,128.64 L139.93,130.55 L140.04,132.46 L140.01,134.37 L139.89,136.28 L139.72,138.19 L139.48,140.10 L139.18,142.01 L138.92,143.92 L138.71,145.83 L138.53,147.74 L138.44,149.64 L138.46,151.55 L138.57,153.46 L138.73,155.37 L138.97,157.28 L139.26,159.19 L139.52,161.10 L139.74,163.22 L139.93,165.35 L140.06,166.83" stroke="#e8a060" stroke-width="0.61" fill="none" stroke-linecap="round" opacity="0.77"/>
<path d="M148.42,121.00 L149.04,122.23 L149.88,123.99 L150.34,125.74 L150.10,127.32 L149.48,128.90 L148.91,130.48 L148.52,132.06 L148.19,133.64 L147.95,135.22 L147.84,136.80 L147.82,138.38 L147.87,139.97 L147.99,141.55 L148.16,143.13 L148.30,144.71 L148.39,146.29 L148.44,147.87 L148.39,149.45 L148.23,151.03 L147.97,152.61 L147.63,154.19 L147.14,155.95 L146.56,157.70 L146.15,158.93" stroke="#f8ecd8" stroke-width="0.79" fill="none" stroke-linecap="round" opacity="0.72"/>
<path d="M142.76,121.00 L143.20,122.68 L143.82,125.07 L144.32,127.47 L144.57,129.63 L144.70,131.79 L144.73,133.94 L144.68,136.10 L144.53,138.26 L144.28,140.41 L143.91,142.57 L143.44,144.73 L142.98,146.89 L142.53,149.04 L142.08,151.20 L141.72,153.36 L141.44,155.51 L141.24,157.67 L141.16,159.83 L141.22,161.99 L141.39,164.14 L141.60,166.30 L141.86,168.70 L142.17,171.09 L142.39,172.77" stroke="#f0c49c" stroke-width="0.69" fill="none" stroke-linecap="round" opacity="0.87"/>
<path d="M144.51,121.00 L144.84,122.27 L145.30,124.09 L145.60,125.91 L145.61,127.54 L145.47,129.18 L145.37,130.81 L145.36,132.45 L145.39,134.09 L145.42,135.72 L145.46,137.36 L145.50,138.99 L145.50,140.63 L145.45,142.26 L145.36,143.90 L145.23,145.53 L145.05,147.17 L144.82,148.81 L144.58,150.44 L144.31,152.08 L144.01,153.71 L143.73,155.35 L143.47,157.17 L143.22,158.98 L143.04,160.26" stroke="#d07838" stroke-width="1.02" fill="none" stroke-linecap="round" opacity="0.97"/>
<path d="M142.41,121.00 L142.79,122.55 L143.32,124.76 L143.76,126.97 L144.03,128.95 L144.22,130.94 L144.32,132.93 L144.36,134.92 L144.32,136.91 L144.18,138.90 L143.92,140.89 L143.56,142.87 L143.18,144.86 L142.78,146.85 L142.35,148.84 L141.97,150.83 L141.67,152.82 L141.42,154.81 L141.26,156.79 L141.22,158.78 L141.27,160.77 L141.39,162.76 L141.60,164.97 L141.87,167.18 L142.06,168.73" stroke="#c06830" stroke-width="1.29" fill="none" stroke-linecap="round" opacity="0.82"/>
<path d="M144.65,121.00 L145.05,122.17 L145.59,123.84 L146.00,125.52 L146.13,127.02 L146.13,128.53 L146.12,130.03 L146.16,131.54 L146.20,133.04 L146.22,134.55 L146.23,136.05 L146.21,137.56 L146.16,139.07 L146.04,140.57 L145.88,142.08 L145.68,143.58 L145.44,145.09 L145.16,146.59 L144.89,148.10 L144.61,149.60 L144.33,151.11 L144.09,152.61 L143.89,154.29 L143.71,155.96 L143.60,157.13" stroke="#e08c48" stroke-width="1.03" fill="none" stroke-linecap="round" opacity="0.79"/>
<path d="M146.15,121.00 L146.80,122.77 L147.68,125.29 L148.27,127.81 L148.29,130.09 L148.01,132.36 L147.76,134.63 L147.65,136.90 L147.57,139.17 L147.48,141.44 L147.37,143.71 L147.25,145.98 L147.08,148.26 L146.84,150.53 L146.55,152.80 L146.24,155.07 L145.89,157.34 L145.51,159.61 L145.18,161.88 L144.90,164.15 L144.67,166.43 L144.47,168.70 L144.30,171.22 L144.16,173.74 L144.07,175.51" stroke="#f8ecd8" stroke-width="0.85" fill="none" stroke-linecap="round" opacity="0.99"/>
<path d="M140.00,121.00 L139.55,122.37 L138.94,124.33 L138.53,126.28 L138.49,128.04 L138.64,129.80 L138.83,131.56 L139.03,133.32 L139.26,135.09 L139.48,136.85 L139.70,138.61 L139.91,140.37 L140.06,142.13 L140.15,143.89 L140.19,145.65 L140.18,147.41 L140.13,149.17 L140.04,150.93 L139.92,152.69 L139.77,154.45 L139.60,156.21 L139.43,157.97 L139.26,159.93 L139.09,161.89 L138.97,163.26" stroke="#c06830" stroke-width="1.56" fill="none" stroke-linecap="round" opacity="0.94"/>
<path d="M147.68,121.00 L148.48,122.61 L149.55,124.91 L150.22,127.20 L150.11,129.27 L149.59,131.34 L149.09,133.41 L148.74,135.47 L148.41,137.54 L148.12,139.61 L147.89,141.68 L147.69,143.75 L147.50,145.81 L147.33,147.88 L147.18,149.95 L147.01,152.02 L146.82,154.08 L146.62,156.15 L146.44,158.22 L146.30,160.29 L146.17,162.36 L146.04,164.42 L145.88,166.72 L145.71,169.02 L145.60,170.63" stroke="#f0c49c" stroke-width="1.35" fill="none" stroke-linecap="round" opacity="0.82"/>
<path d="M145.05,121.00 L145.57,122.86 L146.27,125.52 L146.78,128.17 L146.86,130.56 L146.74,132.96 L146.64,135.35 L146.68,137.74 L146.75,140.13 L146.78,142.52 L146.75,144.91 L146.69,147.30 L146.54,149.69 L146.28,152.08 L145.94,154.48 L145.57,156.87 L145.17,159.26 L144.74,161.65 L144.34,164.04 L143.98,166.43 L143.64,168.82 L143.37,171.21 L143.17,173.87 L143.03,176.53 L142.93,178.39" stroke="#d07838" stroke-width="1.02" fill="none" stroke-linecap="round" opacity="0.78"/>
<path d="M143.83,121.00 L144.13,122.06 L144.55,123.57 L144.90,125.08 L145.10,126.44 L145.22,127.80 L145.31,129.16 L145.38,130.51 L145.42,131.87 L145.43,133.23 L145.41,134.59 L145.36,135.95 L145.27,137.31 L145.13,138.67 L144.95,140.03 L144.75,141.39 L144.52,142.75 L144.28,144.11 L144.05,145.47 L143.84,146.82 L143.66,148.18 L143.51,149.54 L143.41,151.05 L143.35,152.56 L143.31,153.62" stroke="#c06830" stroke-width="0.90" fill="none" stroke-linecap="round" opacity="0.97"/>
<path d="M147.45,121.00 L148.46,122.52 L149.85,124.69 L150.78,126.85 L150.85,128.80 L150.47,130.76 L150.03,132.71 L149.65,134.66 L149.22,136.61 L148.78,138.56 L148.32,140.51 L147.85,142.46 L147.42,144.41 L147.03,146.36 L146.67,148.31 L146.37,150.27 L146.15,152.22 L145.98,154.17 L145.87,156.12 L145.83,158.07 L145.86,160.02 L145.91,161.97 L146.01,164.14 L146.14,166.31 L146.23,167.83" stroke="#f8ecd8" stroke-width="1.28" fill="none" stroke-linecap="round" opacity="0.82"/>
<path d="M145.75,121.00 L146.47,122.61 L147.46,124.90 L148.13,127.20 L148.22,129.26 L148.00,131.33 L147.75,133.40 L147.54,135.46 L147.30,137.53 L147.03,139.59 L146.72,141.66 L146.39,143.73 L146.06,145.79 L145.72,147.86 L145.39,149.92 L145.09,151.99 L144.81,154.06 L144.56,156.12 L144.38,158.19 L144.30,160.25 L144.29,162.32 L144.30,164.39 L144.35,166.68 L144.43,168.98 L144.48,170.58" stroke="#d07838" stroke-width="1.02" fill="none" stroke-linecap="round" opacity="0.94"/>
<path d="M143.87,121.00 L144.02,122.38 L144.21,124.34 L144.29,126.31 L144.15,128.08 L143.90,129.84 L143.66,131.61 L143.46,133.38 L143.28,135.15 L143.13,136.92 L143.03,138.69 L142.96,140.46 L142.92,142.23 L142.92,144.00 L142.95,145.76 L142.99,147.53 L143.04,149.30 L143.10,151.07 L143.14,152.84 L143.12,154.61 L143.08,156.38 L143.00,158.15 L142.86,160.11 L142.68,162.08 L142.55,163.45" stroke="#d07838" stroke-width="0.98" fill="none" stroke-linecap="round" opacity="0.97"/>
<path d="M148.03,121.00 L148.68,122.73 L149.56,125.19 L150.04,127.66 L149.76,129.88 L149.08,132.10 L148.47,134.32 L148.06,136.54 L147.71,138.77 L147.45,140.99 L147.29,143.21 L147.20,145.43 L147.15,147.65 L147.11,149.87 L147.10,152.09 L147.07,154.31 L146.98,156.53 L146.86,158.75 L146.74,160.97 L146.61,163.19 L146.47,165.41 L146.27,167.63 L145.97,170.10 L145.61,172.57 L145.35,174.30" stroke="#d07838" stroke-width="0.88" fill="none" stroke-linecap="round" opacity="0.93"/>
<path d="M139.17,121.00 L138.81,122.85 L138.33,125.49 L138.06,128.14 L138.21,130.52 L138.58,132.90 L138.91,135.27 L139.14,137.65 L139.33,140.03 L139.46,142.41 L139.49,144.79 L139.45,147.17 L139.38,149.55 L139.29,151.93 L139.18,154.31 L139.06,156.69 L138.92,159.07 L138.76,161.44 L138.61,163.82 L138.47,166.20 L138.35,168.58 L138.30,170.96 L138.39,173.60 L138.56,176.25 L138.68,178.10" stroke="#c06830" stroke-width="1.23" fill="none" stroke-linecap="round" opacity="0.71"/>
<path d="M139.31,121.00 L138.96,122.32 L138.48,124.21 L138.20,126.11 L138.32,127.81 L138.63,129.51 L138.94,131.21 L139.16,132.91 L139.37,134.61 L139.52,136.32 L139.63,138.02 L139.68,139.72 L139.68,141.42 L139.59,143.12 L139.45,144.82 L139.30,146.53 L139.16,148.23 L139.02,149.93 L138.91,151.63 L138.84,153.33 L138.80,155.03 L138.79,156.74 L138.83,158.63 L138.91,160.52 L138.96,161.84" stroke="#f8ecd8" stroke-width="1.21" fill="none" stroke-linecap="round" opacity="0.81"/>
<path d="M146.59,121.00 L147.49,122.32 L148.71,124.21 L149.60,126.10 L149.79,127.80 L149.65,129.50 L149.51,131.19 L149.51,132.89 L149.52,134.59 L149.49,136.29 L149.39,137.99 L149.24,139.69 L149.03,141.39 L148.75,143.09 L148.40,144.79 L148.01,146.49 L147.57,148.19 L147.10,149.88 L146.65,151.58 L146.23,153.28 L145.83,154.98 L145.51,156.68 L145.32,158.57 L145.20,160.46 L145.14,161.78" stroke="#d07838" stroke-width="1.58" fill="none" stroke-linecap="round" opacity="0.97"/>
<path d="M140.69,121.00 L140.45,122.88 L140.12,125.56 L139.93,128.24 L139.98,130.65 L140.15,133.06 L140.33,135.47 L140.49,137.88 L140.65,140.29 L140.78,142.71 L140.85,145.12 L140.89,147.53 L140.90,149.94 L140.87,152.35 L140.81,154.76 L140.72,157.18 L140.58,159.59 L140.40,162.00 L140.21,164.41 L140.00,166.82 L139.77,169.23 L139.61,171.65 L139.56,174.33 L139.58,177.01 L139.60,178.88" stroke="#e8a060" stroke-width="0.89" fill="none" stroke-linecap="round" opacity="0.97"/>
<path d="M141.96,121.00 L141.98,122.20 L142.00,123.90 L142.02,125.61 L142.03,127.15 L142.03,128.69 L142.02,130.23 L141.96,131.76 L141.89,133.30 L141.81,134.84 L141.73,136.38 L141.65,137.91 L141.57,139.45 L141.47,140.99 L141.38,142.53 L141.32,144.06 L141.29,145.60 L141.28,147.14 L141.30,148.68 L141.33,150.22 L141.38,151.75 L141.42,153.29 L141.44,155.00 L141.45,156.71 L141.46,157.90" stroke="#c06830" stroke-width="0.70" fill="none" stroke-linecap="round" opacity="0.71"/>
<path d="M143.44,121.00 L143.43,122.71 L143.41,125.16 L143.29,127.61 L143.03,129.81 L142.69,132.01 L142.35,134.22 L142.01,136.42 L141.67,138.62 L141.37,140.83 L141.14,143.03 L140.95,145.23 L140.87,147.44 L140.91,149.64 L141.04,151.84 L141.22,154.04 L141.45,156.25 L141.72,158.45 L141.95,160.65 L142.14,162.86 L142.30,165.06 L142.36,167.26 L142.25,169.71 L142.05,172.16 L141.89,173.87" stroke="#e08c48" stroke-width="1.36" fill="none" stroke-linecap="round" opacity="0.77"/>
<path d="M145.46,163.33 Q145.65,168.98 145.56,174.63" stroke="#e8e0d0" stroke-width="0.5" fill="none" opacity="0.8"/>
<path d="M143.23,155.61 Q142.97,161.57 143.10,167.54" stroke="#e8e0d0" stroke-width="0.5" fill="none" opacity="0.8"/>
<path d="M145.53,164.85 Q144.67,170.41 145.10,175.96" stroke="#e8e0d0" stroke-width="0.5" fill="none" opacity="0.8"/>
<path d="M140.79,171.62 Q140.73,178.31 140.76,185.00" stroke="#e8e0d0" stroke-width="0.5" fill="none" opacity="0.8"/>
<path d="M140.52,158.36 Q138.49,163.96 139.50,169.56" stroke="#e8e0d0" stroke-width="0.5" fill="none" opacity="0.8"/>
<path d="M142.08,157.63 Q143.50,160.80 142.79,163.96" stroke="#e8e0d0" stroke-width="0.5" fill="none" opacity="0.8"/>
<path d="M190.00,120.00 L188.50,126.00 L188.00,140.00 L186.00,160.00 L187.00,170.00 L202.00,170.00 L205.50,160.00 L207.50,140.00 L207.50,126.00 L206.50,120.00Z" fill="#7a3c14" opacity="0.85"/>
<path d="M190.75,120.00 L190.19,121.47 L189.40,123.58 L188.73,125.68 L188.29,127.58 L187.96,129.47 L187.69,131.36 L187.47,133.26 L187.31,135.15 L187.19,137.04 L187.10,138.94 L187.04,140.83 L186.97,142.73 L186.88,144.62 L186.79,146.51 L186.66,148.41 L186.49,150.30 L186.30,152.19 L186.04,154.09 L185.71,155.98 L185.31,157.88 L184.85,159.77 L184.24,161.87 L183.56,163.98 L183.08,165.45" stroke="#f8ecd8" stroke-width="1.20" fill="none" stroke-linecap="round" opacity="0.78"/>
<path d="M196.65,120.00 L196.24,121.39 L195.65,123.37 L195.15,125.34 L194.79,127.13 L194.51,128.91 L194.33,130.69 L194.27,132.47 L194.32,134.25 L194.42,136.03 L194.59,137.81 L194.83,139.60 L195.02,141.38 L195.14,143.16 L195.21,144.94 L195.20,146.72 L195.09,148.50 L194.91,150.29 L194.63,152.07 L194.25,153.85 L193.77,155.63 L193.23,157.41 L192.56,159.39 L191.83,161.37 L191.31,162.76" stroke="#e07a30" stroke-width="0.69" fill="none" stroke-linecap="round" opacity="0.72"/>
<path d="M193.76,120.00 L193.55,121.71 L193.26,124.16 L193.10,126.61 L193.17,128.81 L193.36,131.01 L193.56,133.21 L193.77,135.42 L193.98,137.62 L194.06,139.82 L193.96,142.02 L193.73,144.22 L193.41,146.43 L193.00,148.63 L192.50,150.83 L191.96,153.03 L191.38,155.23 L190.77,157.44 L190.13,159.64 L189.46,161.84 L188.78,164.04 L188.18,166.25 L187.67,168.69 L187.25,171.14 L186.96,172.85" stroke="#d06a28" stroke-width="0.97" fill="none" stroke-linecap="round" opacity="0.91"/>
<path d="M205.50,120.00 L205.65,121.33 L205.85,123.23 L206.05,125.12 L206.20,126.83 L206.34,128.54 L206.51,130.24 L206.71,131.95 L206.94,133.66 L207.15,135.37 L207.34,137.07 L207.50,138.78 L207.59,140.49 L207.55,142.20 L207.43,143.90 L207.26,145.61 L207.02,147.32 L206.73,149.03 L206.43,150.73 L206.13,152.44 L205.82,154.15 L205.53,155.86 L205.27,157.75 L205.02,159.65 L204.86,160.98" stroke="#e07a30" stroke-width="0.61" fill="none" stroke-linecap="round" opacity="0.90"/>
<path d="M204.86,120.00 L205.04,122.03 L205.29,124.92 L205.47,127.81 L205.52,130.42 L205.51,133.02 L205.49,135.63 L205.51,138.23 L205.53,140.84 L205.51,143.44 L205.46,146.05 L205.38,148.65 L205.28,151.26 L205.20,153.86 L205.10,156.47 L204.84,159.07 L204.35,161.68 L203.69,164.28 L203.01,166.89 L202.32,169.49 L201.60,172.10 L200.93,174.70 L200.33,177.60 L199.78,180.49 L199.40,182.52" stroke="#f8d8b8" stroke-width="1.13" fill="none" stroke-linecap="round" opacity="0.95"/>
<path d="M206.31,120.00 L206.33,121.42 L206.35,123.44 L206.36,125.46 L206.31,127.28 L206.26,129.10 L206.29,130.92 L206.45,132.74 L206.69,134.56 L206.95,136.38 L207.25,138.20 L207.57,140.02 L207.83,141.84 L208.00,143.66 L208.10,145.48 L208.10,147.30 L208.00,149.12 L207.80,150.94 L207.53,152.76 L207.20,154.58 L206.81,156.40 L206.34,158.22 L205.72,160.25 L205.04,162.27 L204.55,163.69" stroke="#fff8ec" stroke-width="0.88" fill="none" stroke-linecap="round" opacity="0.92"/>
<path d="M197.71,120.00 L197.58,121.86 L197.40,124.52 L197.26,127.17 L197.19,129.56 L197.16,131.95 L197.14,134.34 L197.13,136.74 L197.12,139.13 L197.05,141.52 L196.90,143.91 L196.68,146.30 L196.45,148.69 L196.20,151.08 L195.93,153.47 L195.60,155.86 L195.20,158.25 L194.73,160.64 L194.22,163.03 L193.63,165.43 L192.99,167.82 L192.39,170.21 L191.82,172.86 L191.29,175.52 L190.92,177.38" stroke="#fbeee0" stroke-width="0.70" fill="none" stroke-linecap="round" opacity="0.89"/>
<path d="M194.55,120.00 L194.20,121.83 L193.71,124.45 L193.30,127.07 L193.05,129.42 L192.88,131.78 L192.73,134.14 L192.60,136.49 L192.50,138.85 L192.37,141.20 L192.17,143.56 L191.94,145.92 L191.71,148.27 L191.49,150.63 L191.28,152.98 L191.01,155.34 L190.69,157.70 L190.33,160.05 L189.89,162.41 L189.36,164.76 L188.76,167.12 L188.16,169.48 L187.53,172.09 L186.91,174.71 L186.47,176.54" stroke="#f8d8b8" stroke-width="0.63" fill="none" stroke-linecap="round" opacity="1.00"/>
<path d="M191.04,120.00 L190.52,121.92 L189.79,124.66 L189.21,127.41 L188.91,129.88 L188.76,132.35 L188.63,134.82 L188.49,137.29 L188.37,139.76 L188.21,142.23 L187.98,144.70 L187.71,147.17 L187.42,149.64 L187.13,152.11 L186.82,154.58 L186.45,157.04 L186.00,159.51 L185.49,161.98 L184.93,164.45 L184.31,166.92 L183.64,169.39 L183.02,171.86 L182.45,174.61 L181.93,177.35 L181.57,179.27" stroke="#d06a28" stroke-width="0.89" fill="none" stroke-linecap="round" opacity="0.71"/>
<path d="M193.27,120.00 L193.07,121.27 L192.78,123.09 L192.50,124.90 L192.28,126.54 L192.08,128.17 L191.88,129.81 L191.67,131.44 L191.45,133.08 L191.24,134.71 L191.07,136.35 L190.91,137.98 L190.73,139.62 L190.52,141.25 L190.29,142.89 L190.09,144.52 L189.92,146.16 L189.79,147.79 L189.65,149.42 L189.51,151.06 L189.38,152.69 L189.22,154.33 L188.99,156.15 L188.74,157.96 L188.56,159.23" stroke="#f0a060" stroke-width="1.03" fill="none" stroke-linecap="round" opacity="0.86"/>
<path d="M190.64,120.00 L190.21,121.85 L189.61,124.49 L189.08,127.13 L188.73,129.50 L188.44,131.88 L188.11,134.25 L187.73,136.63 L187.31,139.01 L186.86,141.38 L186.35,143.76 L185.81,146.13 L185.33,148.51 L184.95,150.89 L184.62,153.26 L184.33,155.64 L184.08,158.01 L183.85,160.39 L183.61,162.76 L183.32,165.14 L183.01,167.52 L182.67,169.89 L182.25,172.53 L181.80,175.17 L181.48,177.02" stroke="#fff8ec" stroke-width="0.69" fill="none" stroke-linecap="round" opacity="0.79"/>
<path d="M193.89,120.00 L193.41,121.84 L192.74,124.46 L192.17,127.09 L191.82,129.45 L191.57,131.81 L191.37,134.17 L191.24,136.54 L191.16,138.90 L191.07,141.26 L190.94,143.62 L190.81,145.99 L190.67,148.35 L190.55,150.71 L190.43,153.07 L190.23,155.43 L189.95,157.80 L189.59,160.16 L189.14,162.52 L188.55,164.88 L187.87,167.25 L187.19,169.61 L186.45,172.23 L185.70,174.86 L185.18,176.70" stroke="#fbeee0" stroke-width="0.95" fill="none" stroke-linecap="round" opacity="0.86"/>
<path d="M204.47,120.00 L204.89,122.06 L205.47,125.01 L205.96,127.96 L206.27,130.62 L206.50,133.27 L206.64,135.92 L206.71,138.58 L206.70,141.23 L206.59,143.89 L206.35,146.54 L206.02,149.20 L205.65,151.85 L205.29,154.50 L204.90,157.16 L204.38,159.81 L203.66,162.47 L202.83,165.12 L202.07,167.77 L201.43,170.43 L200.87,173.08 L200.42,175.74 L200.09,178.68 L199.87,181.63 L199.73,183.70" stroke="#f0a060" stroke-width="1.32" fill="none" stroke-linecap="round" opacity="0.95"/>
<path d="M200.04,120.00 L199.89,121.21 L199.69,122.95 L199.56,124.68 L199.56,126.24 L199.63,127.80 L199.76,129.37 L199.97,130.93 L200.24,132.49 L200.51,134.05 L200.78,135.61 L201.05,137.17 L201.21,138.73 L201.25,140.29 L201.18,141.85 L201.01,143.41 L200.73,144.97 L200.35,146.54 L199.93,148.10 L199.48,149.66 L198.99,151.22 L198.54,152.78 L198.15,154.51 L197.80,156.25 L197.56,157.46" stroke="#f8d8b8" stroke-width="1.19" fill="none" stroke-linecap="round" opacity="0.83"/>
<path d="M194.70,120.00 L194.41,121.37 L194.01,123.33 L193.74,125.28 L193.70,127.04 L193.79,128.80 L193.94,130.57 L194.17,132.33 L194.45,134.09 L194.70,135.85 L194.90,137.61 L195.06,139.37 L195.09,141.13 L194.95,142.89 L194.67,144.65 L194.31,146.41 L193.85,148.18 L193.31,149.94 L192.76,151.70 L192.19,153.46 L191.62,155.22 L191.09,156.98 L190.59,158.94 L190.15,160.89 L189.84,162.26" stroke="#e89048" stroke-width="1.46" fill="none" stroke-linecap="round" opacity="0.98"/>
<path d="M204.49,120.00 L204.61,121.50 L204.79,123.63 L204.92,125.77 L204.95,127.70 L204.94,129.62 L204.96,131.54 L205.05,133.47 L205.16,135.39 L205.26,137.32 L205.33,139.24 L205.39,141.16 L205.40,143.09 L205.36,145.01 L205.27,146.94 L205.14,148.86 L204.97,150.78 L204.77,152.71 L204.54,154.63 L204.31,156.56 L204.06,158.48 L203.72,160.40 L203.19,162.54 L202.57,164.68 L202.13,166.18" stroke="#fff8ec" stroke-width="0.88" fill="none" stroke-linecap="round" opacity="0.80"/>
<path d="M197.52,120.00 L197.50,121.27 L197.47,123.09 L197.47,124.91 L197.55,126.55 L197.66,128.19 L197.77,129.82 L197.87,131.46 L197.96,133.10 L198.01,134.73 L198.03,136.37 L198.00,138.01 L197.88,139.64 L197.65,141.28 L197.32,142.92 L196.99,144.56 L196.63,146.19 L196.27,147.83 L195.93,149.47 L195.62,151.10 L195.34,152.74 L195.11,154.38 L194.94,156.20 L194.81,158.02 L194.73,159.29" stroke="#fbeee0" stroke-width="1.19" fill="none" stroke-linecap="round" opacity="0.73"/>
<path d="M201.32,120.00 L201.44,121.90 L201.61,124.62 L201.79,127.33 L201.98,129.78 L202.17,132.22 L202.36,134.66 L202.55,137.11 L202.73,139.55 L202.81,142.00 L202.76,144.44 L202.62,146.88 L202.40,149.33 L202.12,151.77 L201.77,154.22 L201.32,156.66 L200.73,159.10 L200.05,161.55 L199.35,163.99 L198.62,166.43 L197.86,168.88 L197.20,171.32 L196.68,174.04 L196.25,176.75 L195.96,178.65" stroke="#f0a060" stroke-width="0.77" fill="none" stroke-linecap="round" opacity="0.77"/>
<path d="M194.98,120.00 L194.96,122.02 L194.94,124.90 L194.93,127.77 L194.97,130.37 L195.01,132.96 L194.96,135.55 L194.75,138.14 L194.45,140.73 L194.04,143.32 L193.52,145.92 L192.90,148.51 L192.29,151.10 L191.72,153.69 L191.16,156.28 L190.60,158.87 L190.04,161.47 L189.47,164.06 L188.97,166.65 L188.53,169.24 L188.15,171.83 L187.87,174.42 L187.71,177.30 L187.65,180.18 L187.62,182.20" stroke="#e07a30" stroke-width="0.87" fill="none" stroke-linecap="round" opacity="0.77"/>
<path d="M189.94,120.00 L189.28,121.97 L188.36,124.79 L187.65,127.60 L187.34,130.14 L187.24,132.67 L187.20,135.20 L187.18,137.74 L187.22,140.27 L187.21,142.80 L187.14,145.34 L187.03,147.87 L186.85,150.41 L186.62,152.94 L186.31,155.47 L185.89,158.01 L185.32,160.54 L184.64,163.07 L183.90,165.61 L183.07,168.14 L182.17,170.68 L181.38,173.21 L180.72,176.02 L180.15,178.84 L179.77,180.81" stroke="#f0a060" stroke-width="0.93" fill="none" stroke-linecap="round" opacity="0.89"/>
<path d="M206.51,120.00 L206.69,121.84 L206.93,124.48 L207.03,127.11 L206.86,129.49 L206.54,131.86 L206.23,134.23 L205.98,136.60 L205.73,138.97 L205.52,141.34 L205.34,143.72 L205.19,146.09 L205.12,148.46 L205.15,150.83 L205.26,153.20 L205.33,155.57 L205.36,157.95 L205.36,160.32 L205.23,162.69 L204.90,165.06 L204.44,167.43 L203.91,169.80 L203.25,172.44 L202.53,175.07 L202.02,176.92" stroke="#f8ecd8" stroke-width="1.42" fill="none" stroke-linecap="round" opacity="0.94"/>
<path d="M205.27,120.00 L205.37,121.31 L205.51,123.17 L205.64,125.04 L205.74,126.72 L205.82,128.40 L205.94,130.08 L206.10,131.76 L206.30,133.44 L206.49,135.12 L206.69,136.81 L206.89,138.49 L207.01,140.17 L207.02,141.85 L206.95,143.53 L206.82,145.21 L206.63,146.89 L206.38,148.57 L206.11,150.25 L205.82,151.93 L205.50,153.61 L205.21,155.29 L204.94,157.16 L204.69,159.03 L204.51,160.33" stroke="#d06a28" stroke-width="1.39" fill="none" stroke-linecap="round" opacity="0.76"/>
<path d="M191.23,120.00 L190.68,121.82 L189.91,124.43 L189.28,127.03 L188.93,129.37 L188.71,131.72 L188.54,134.06 L188.40,136.40 L188.30,138.75 L188.17,141.09 L187.98,143.43 L187.76,145.78 L187.53,148.12 L187.31,150.47 L187.08,152.81 L186.80,155.15 L186.45,157.50 L186.05,159.84 L185.58,162.18 L185.01,164.53 L184.38,166.87 L183.74,169.21 L183.06,171.82 L182.39,174.42 L181.91,176.24" stroke="#f0a060" stroke-width="0.71" fill="none" stroke-linecap="round" opacity="0.75"/>
<path d="M203.05,120.00 L203.21,122.12 L203.44,125.14 L203.64,128.17 L203.78,130.89 L203.90,133.62 L203.99,136.34 L204.06,139.07 L204.12,141.79 L204.11,144.51 L204.03,147.24 L203.90,149.96 L203.69,152.68 L203.45,155.41 L203.15,158.13 L202.69,160.85 L201.99,163.58 L201.13,166.30 L200.31,169.02 L199.56,171.75 L198.85,174.47 L198.22,177.20 L197.68,180.22 L197.24,183.25 L196.93,185.37" stroke="#e89048" stroke-width="0.75" fill="none" stroke-linecap="round" opacity="0.74"/>
<path d="M200.27,120.00 L200.14,121.30 L199.95,123.15 L199.83,125.00 L199.81,126.66 L199.85,128.33 L199.95,130.00 L200.13,131.66 L200.37,133.33 L200.61,134.99 L200.86,136.66 L201.12,138.32 L201.27,139.99 L201.27,141.66 L201.17,143.32 L200.98,144.99 L200.71,146.65 L200.35,148.32 L199.96,149.99 L199.53,151.65 L199.06,153.32 L198.62,154.98 L198.23,156.83 L197.87,158.68 L197.62,159.98" stroke="#e07a30" stroke-width="0.63" fill="none" stroke-linecap="round" opacity="0.92"/>
<path d="M206.43,120.00 L206.63,121.54 L206.91,123.75 L207.04,125.95 L206.92,127.94 L206.66,129.92 L206.40,131.91 L206.21,133.89 L206.02,135.88 L205.86,137.86 L205.75,139.85 L205.66,141.83 L205.62,143.82 L205.64,145.80 L205.70,147.78 L205.78,149.77 L205.89,151.75 L206.02,153.74 L206.07,155.72 L206.06,157.71 L205.97,159.69 L205.74,161.68 L205.23,163.88 L204.57,166.09 L204.10,167.63" stroke="#f8ecd8" stroke-width="1.39" fill="none" stroke-linecap="round" opacity="0.82"/>
<path d="M203.21,120.00 L203.33,121.50 L203.50,123.65 L203.67,125.80 L203.81,127.73 L203.95,129.67 L204.12,131.60 L204.34,133.54 L204.59,135.47 L204.79,137.40 L204.91,139.34 L204.98,141.27 L204.96,143.20 L204.83,145.14 L204.61,147.07 L204.35,149.01 L204.02,150.94 L203.64,152.87 L203.26,154.81 L202.89,156.74 L202.52,158.67 L202.12,160.61 L201.61,162.76 L201.06,164.90 L200.68,166.41" stroke="#d06a28" stroke-width="1.11" fill="none" stroke-linecap="round" opacity="0.87"/>
<path d="M202.82,120.00 L202.72,121.58 L202.58,123.85 L202.36,126.11 L202.04,128.15 L201.66,130.18 L201.33,132.22 L201.10,134.26 L200.94,136.29 L200.83,138.33 L200.78,140.37 L200.79,142.40 L200.85,144.44 L200.97,146.48 L201.12,148.51 L201.26,150.55 L201.38,152.59 L201.48,154.62 L201.45,156.66 L201.26,158.70 L200.95,160.73 L200.50,162.77 L199.80,165.03 L198.97,167.30 L198.38,168.88" stroke="#f8d8b8" stroke-width="1.25" fill="none" stroke-linecap="round" opacity="0.87"/>
<path d="M198.77,120.00 L198.55,122.03 L198.25,124.92 L197.99,127.81 L197.81,130.41 L197.68,133.02 L197.58,135.62 L197.51,138.23 L197.47,140.83 L197.43,143.43 L197.36,146.04 L197.28,148.64 L197.18,151.24 L197.08,153.85 L196.96,156.45 L196.71,159.06 L196.24,161.66 L195.64,164.26 L194.98,166.87 L194.25,169.47 L193.47,172.07 L192.74,174.68 L192.09,177.57 L191.50,180.46 L191.09,182.49" stroke="#e89048" stroke-width="1.01" fill="none" stroke-linecap="round" opacity="0.79"/>
<path d="M196.59,120.00 L196.50,121.29 L196.39,123.14 L196.36,124.99 L196.47,126.65 L196.68,128.31 L196.90,129.97 L197.14,131.63 L197.40,133.29 L197.59,134.96 L197.73,136.62 L197.80,138.28 L197.75,139.94 L197.51,141.60 L197.13,143.27 L196.71,144.93 L196.23,146.59 L195.71,148.25 L195.21,149.91 L194.74,151.57 L194.30,153.24 L193.94,154.90 L193.70,156.74 L193.53,158.59 L193.43,159.88" stroke="#e89048" stroke-width="1.54" fill="none" stroke-linecap="round" opacity="0.91"/>
<path d="M189.88,120.00 L189.65,121.20 L189.31,122.91 L189.05,124.62 L188.91,126.16 L188.85,127.69 L188.78,129.23 L188.71,130.77 L188.64,132.31 L188.54,133.85 L188.40,135.39 L188.23,136.93 L188.01,138.47 L187.72,140.01 L187.38,141.54 L187.04,143.08 L186.69,144.62 L186.34,146.16 L186.02,147.70 L185.75,149.24 L185.51,150.78 L185.29,152.32 L185.09,154.03 L184.91,155.74 L184.79,156.93" stroke="#fff8ec" stroke-width="0.64" fill="none" stroke-linecap="round" opacity="0.78"/>
<path d="M203.68,120.00 L203.61,122.06 L203.52,125.01 L203.42,127.96 L203.30,130.62 L203.18,133.27 L203.12,135.93 L203.15,138.58 L203.24,141.23 L203.34,143.89 L203.45,146.54 L203.57,149.20 L203.65,151.85 L203.74,154.51 L203.80,157.16 L203.64,159.81 L203.14,162.47 L202.43,165.12 L201.65,167.78 L200.83,170.43 L199.93,173.09 L199.09,175.74 L198.27,178.69 L197.50,181.64 L196.97,183.70" stroke="#f8d8b8" stroke-width="0.98" fill="none" stroke-linecap="round" opacity="0.72"/>
<path d="M198.25,120.00 L198.26,121.36 L198.28,123.31 L198.35,125.26 L198.50,127.01 L198.70,128.77 L198.89,130.52 L199.08,132.28 L199.27,134.03 L199.39,135.78 L199.43,137.54 L199.40,139.29 L199.27,141.04 L198.99,142.80 L198.61,144.55 L198.20,146.31 L197.77,148.06 L197.31,149.81 L196.89,151.57 L196.52,153.32 L196.18,155.07 L195.89,156.83 L195.65,158.78 L195.45,160.73 L195.32,162.09" stroke="#fbeee0" stroke-width="0.76" fill="none" stroke-linecap="round" opacity="0.79"/>
<path d="M194.08,120.00 L193.60,121.63 L192.93,123.95 L192.33,126.27 L191.89,128.36 L191.52,130.45 L191.21,132.54 L190.98,134.63 L190.80,136.72 L190.65,138.81 L190.51,140.90 L190.40,142.99 L190.32,145.08 L190.27,147.17 L190.26,149.26 L190.21,151.35 L190.13,153.44 L190.01,155.53 L189.80,157.62 L189.45,159.71 L189.00,161.80 L188.47,163.89 L187.77,166.21 L186.99,168.54 L186.43,170.16" stroke="#e89048" stroke-width="1.46" fill="none" stroke-linecap="round" opacity="0.78"/>
<path d="M200.26,120.00 L200.43,121.34 L200.66,123.26 L200.88,125.18 L201.06,126.91 L201.23,128.63 L201.35,130.36 L201.43,132.09 L201.46,133.81 L201.42,135.54 L201.33,137.27 L201.16,138.99 L200.94,140.72 L200.62,142.45 L200.23,144.17 L199.87,145.90 L199.54,147.63 L199.23,149.35 L198.97,151.08 L198.79,152.81 L198.66,154.53 L198.56,156.26 L198.48,158.18 L198.43,160.10 L198.39,161.44" stroke="#f8d8b8" stroke-width="1.34" fill="none" stroke-linecap="round" opacity="0.86"/>
<path d="M204.51,120.00 L204.99,121.55 L205.66,123.76 L206.18,125.96 L206.45,127.95 L206.57,129.94 L206.59,131.93 L206.54,133.92 L206.40,135.90 L206.17,137.89 L205.83,139.88 L205.41,141.87 L204.99,143.86 L204.58,145.84 L204.17,147.83 L203.85,149.82 L203.64,151.81 L203.52,153.80 L203.44,155.78 L203.45,157.77 L203.50,159.76 L203.50,161.75 L203.38,163.96 L203.20,166.17 L203.07,167.71" stroke="#fff8ec" stroke-width="0.77" fill="none" stroke-linecap="round" opacity="0.89"/>
<path d="M192.65,120.00 L192.43,121.39 L192.12,123.39 L191.89,125.38 L191.80,127.17 L191.79,128.97 L191.77,130.76 L191.74,132.55 L191.70,134.35 L191.61,136.14 L191.48,137.93 L191.31,139.73 L191.08,141.52 L190.76,143.31 L190.38,145.10 L190.01,146.90 L189.65,148.69 L189.29,150.48 L188.95,152.28 L188.65,154.07 L188.36,155.86 L188.09,157.66 L187.79,159.65 L187.49,161.64 L187.29,163.04" stroke="#f0a060" stroke-width="0.80" fill="none" stroke-linecap="round" opacity="0.87"/>
<path d="M194.74,120.00 L194.47,121.19 L194.09,122.90 L193.78,124.61 L193.57,126.14 L193.43,127.68 L193.33,129.22 L193.29,130.75 L193.30,132.29 L193.33,133.82 L193.39,135.36 L193.47,136.89 L193.50,138.43 L193.46,139.97 L193.38,141.50 L193.25,143.04 L193.05,144.57 L192.80,146.11 L192.53,147.65 L192.21,149.18 L191.87,150.72 L191.53,152.25 L191.16,153.96 L190.79,155.67 L190.53,156.86" stroke="#e89048" stroke-width="0.77" fill="none" stroke-linecap="round" opacity="0.90"/>
<path d="M194.62,120.00 L194.61,121.77 L194.62,124.30 L194.66,126.83 L194.79,129.11 L194.97,131.38 L195.08,133.66 L195.10,135.94 L195.06,138.21 L194.87,140.49 L194.49,142.77 L193.97,145.04 L193.41,147.32 L192.84,149.60 L192.23,151.87 L191.65,154.15 L191.12,156.43 L190.62,158.70 L190.15,160.98 L189.71,163.26 L189.29,165.53 L188.93,167.81 L188.64,170.34 L188.42,172.87 L188.27,174.64" stroke="#d06a28" stroke-width="0.73" fill="none" stroke-linecap="round" opacity="0.82"/>
<path d="M199.85,120.00 L199.87,121.34 L199.89,123.26 L199.85,125.18 L199.72,126.90 L199.53,128.63 L199.32,130.35 L199.09,132.08 L198.84,133.80 L198.61,135.53 L198.41,137.25 L198.24,138.98 L198.09,140.70 L197.94,142.43 L197.81,144.15 L197.72,145.88 L197.69,147.60 L197.70,149.33 L197.71,151.05 L197.71,152.78 L197.71,154.50 L197.64,156.23 L197.45,158.15 L197.19,160.06 L197.01,161.40" stroke="#e07a30" stroke-width="1.56" fill="none" stroke-linecap="round" opacity="0.77"/>
<path d="M205.87,120.00 L206.19,121.36 L206.63,123.30 L206.91,125.23 L206.90,126.98 L206.73,128.72 L206.50,130.47 L206.21,132.21 L205.85,133.96 L205.52,135.70 L205.23,137.45 L204.95,139.19 L204.74,140.94 L204.60,142.68 L204.51,144.43 L204.51,146.17 L204.61,147.92 L204.80,149.66 L204.99,151.41 L205.22,153.15 L205.45,154.89 L205.59,156.64 L205.54,158.58 L205.40,160.52 L205.28,161.87" stroke="#f8ecd8" stroke-width="0.82" fill="none" stroke-linecap="round" opacity="0.80"/>
<path d="M198.03,120.00 L197.72,121.76 L197.30,124.27 L196.95,126.78 L196.75,129.03 L196.64,131.29 L196.60,133.55 L196.68,135.81 L196.84,138.07 L196.98,140.33 L197.06,142.59 L197.12,144.84 L197.13,147.10 L197.10,149.36 L197.02,151.62 L196.85,153.88 L196.57,156.14 L196.20,158.40 L195.70,160.65 L195.01,162.91 L194.18,165.17 L193.36,167.43 L192.53,169.94 L191.70,172.45 L191.12,174.21" stroke="#f0a060" stroke-width="1.07" fill="none" stroke-linecap="round" opacity="0.72"/>
<path d="M201.33,120.00 L201.52,122.01 L201.78,124.89 L201.99,127.77 L202.13,130.36 L202.23,132.95 L202.27,135.54 L202.26,138.13 L202.19,140.72 L202.04,143.31 L201.79,145.90 L201.46,148.49 L201.11,151.09 L200.78,153.68 L200.42,156.27 L199.97,158.86 L199.39,161.45 L198.72,164.04 L198.07,166.63 L197.47,169.22 L196.89,171.81 L196.40,174.40 L196.03,177.28 L195.75,180.16 L195.56,182.17" stroke="#e07a30" stroke-width="1.35" fill="none" stroke-linecap="round" opacity="0.81"/>
<path d="M194.91,120.00 L194.54,121.53 L194.02,123.71 L193.58,125.89 L193.32,127.85 L193.14,129.81 L193.02,131.78 L192.97,133.74 L192.97,135.70 L192.98,137.66 L192.98,139.63 L192.97,141.59 L192.93,143.55 L192.85,145.52 L192.73,147.48 L192.57,149.44 L192.34,151.40 L192.07,153.37 L191.74,155.33 L191.34,157.29 L190.88,159.25 L190.38,161.22 L189.74,163.40 L189.06,165.58 L188.58,167.11" stroke="#e89048" stroke-width="0.94" fill="none" stroke-linecap="round" opacity="0.81"/>
<path d="M202.95,120.00 L202.99,121.63 L203.05,123.97 L203.02,126.30 L202.84,128.41 L202.57,130.51 L202.32,132.61 L202.12,134.71 L201.94,136.81 L201.77,138.91 L201.60,141.02 L201.46,143.12 L201.35,145.22 L201.31,147.32 L201.31,149.42 L201.32,151.52 L201.36,153.63 L201.42,155.73 L201.37,157.83 L201.17,159.93 L200.87,162.03 L200.48,164.13 L199.91,166.47 L199.24,168.80 L198.77,170.44" stroke="#e07a30" stroke-width="1.05" fill="none" stroke-linecap="round" opacity="0.92"/>
<path d="M205.36,120.00 L205.63,121.89 L206.00,124.59 L206.24,127.30 L206.27,129.73 L206.18,132.16 L206.06,134.59 L205.95,137.03 L205.81,139.46 L205.65,141.89 L205.45,144.32 L205.22,146.76 L205.02,149.19 L204.88,151.62 L204.76,154.05 L204.60,156.49 L204.37,158.92 L204.09,161.35 L203.74,163.78 L203.31,166.22 L202.81,168.65 L202.32,171.08 L201.80,173.78 L201.28,176.49 L200.92,178.38" stroke="#f8ecd8" stroke-width="1.38" fill="none" stroke-linecap="round" opacity="0.71"/>
<path d="M194.72,120.00 L194.55,121.69 L194.32,124.11 L194.18,126.53 L194.20,128.70 L194.31,130.88 L194.42,133.05 L194.53,135.23 L194.63,137.40 L194.63,139.58 L194.48,141.75 L194.21,143.93 L193.89,146.10 L193.52,148.28 L193.08,150.45 L192.62,152.63 L192.15,154.81 L191.66,156.98 L191.14,159.16 L190.59,161.33 L190.01,163.51 L189.49,165.68 L189.01,168.10 L188.58,170.52 L188.29,172.21" stroke="#e07a30" stroke-width="0.77" fill="none" stroke-linecap="round" opacity="0.88"/>
<path d="M193.71,120.00 L193.67,121.63 L193.62,123.96 L193.65,126.30 L193.81,128.39 L194.06,130.49 L194.24,132.59 L194.35,134.69 L194.40,136.79 L194.31,138.89 L194.02,140.99 L193.60,143.09 L193.10,145.18 L192.54,147.28 L191.91,149.38 L191.30,151.48 L190.74,153.58 L190.19,155.68 L189.70,157.78 L189.27,159.88 L188.88,161.97 L188.56,164.07 L188.31,166.40 L188.12,168.74 L188.00,170.37" stroke="#fbeee0" stroke-width="0.82" fill="none" stroke-linecap="round" opacity="0.86"/>
<path d="M198.54,120.00 L198.39,121.71 L198.17,124.16 L197.97,126.61 L197.80,128.82 L197.64,131.02 L197.51,133.23 L197.43,135.43 L197.38,137.64 L197.30,139.84 L197.16,142.05 L196.99,144.25 L196.83,146.45 L196.69,148.66 L196.55,150.86 L196.39,153.07 L196.23,155.27 L196.05,157.48 L195.76,159.68 L195.32,161.89 L194.77,164.09 L194.20,166.29 L193.57,168.74 L192.91,171.19 L192.45,172.91" stroke="#fbeee0" stroke-width="1.43" fill="none" stroke-linecap="round" opacity="0.93"/>
<path d="M194.46,120.00 L194.17,121.34 L193.77,123.25 L193.45,125.16 L193.30,126.88 L193.23,128.60 L193.22,130.31 L193.25,132.03 L193.33,133.75 L193.41,135.47 L193.49,137.19 L193.57,138.91 L193.56,140.63 L193.44,142.35 L193.23,144.07 L192.97,145.79 L192.67,147.50 L192.32,149.22 L191.94,150.94 L191.54,152.66 L191.12,154.38 L190.71,156.10 L190.28,158.01 L189.86,159.92 L189.57,161.26" stroke="#fbeee0" stroke-width="1.39" fill="none" stroke-linecap="round" opacity="0.87"/>
<path d="M203.23,151.21 Q200.92,157.35 202.08,163.49" stroke="#e8e0d0" stroke-width="0.5" fill="none" opacity="0.8"/>
<path d="M194.60,156.75 Q197.57,160.59 196.08,164.44" stroke="#e8e0d0" stroke-width="0.5" fill="none" opacity="0.8"/>
<path d="M195.17,167.63 Q194.55,171.62 194.86,175.61" stroke="#e8e0d0" stroke-width="0.5" fill="none" opacity="0.8"/>
<path d="M200.20,165.34 Q199.74,169.69 199.97,174.05" stroke="#e8e0d0" stroke-width="0.5" fill="none" opacity="0.8"/>
<path d="M195.03,159.35 Q193.49,163.63 194.26,167.91" stroke="#e8e0d0" stroke-width="0.5" fill="none" opacity="0.8"/>
<path d="M203.03,165.71 Q205.70,172.52 204.36,179.33" stroke="#e8e0d0" stroke-width="0.5" fill="none" opacity="0.8"/>
<path d="M205.45,159.90 Q204.03,163.43 204.74,166.95" stroke="#e8e0d0" stroke-width="0.5" fill="none" opacity="0.8"/>
<path d="M198.43,155.92 Q197.19,159.94 197.81,163.97" stroke="#e8e0d0" stroke-width="0.5" fill="none" opacity="0.8"/>
<path d="M200.23,153.36 Q199.99,158.89 200.11,164.41" stroke="#e8e0d0" stroke-width="0.5" fill="none" opacity="0.8"/>
<path d="M201.92,167.34 Q200.23,174.17 201.07,181.00" stroke="#e8e0d0" stroke-width="0.5" fill="none" opacity="0.8"/>
<text x="84.50" y="207.80" font-family='"Liberation Sans", sans-serif' font-size="17.5" font-weight="bold" text-anchor="middle" fill="#000" >S0</text>
<text x="148.60" y="207.80" font-family='"Liberation Sans", sans-serif' font-size="17.5" font-weight="bold" text-anchor="middle" fill="#000" >S1</text>
<text x="214.20" y="207.80" font-family='"Liberation Sans", sans-serif' font-size="17.5" font-weight="bold" text-anchor="middle" fill="#000" >S2</text>
<rect x="313.70" y="112.83" width="12.27" height="83.67" fill="#fe0000" stroke="#222" stroke-width="0.45" />
<rect x="325.97" y="115.94" width="12.27" height="80.56" fill="#0a64a2" stroke="#222" stroke-width="0.45" />
<rect x="338.24" y="106.01" width="12.27" height="90.49" fill="#ffc500" stroke="#222" stroke-width="0.45" />
<rect x="359.89" y="77.21" width="12.27" height="119.29" fill="#fe0000" stroke="#222" stroke-width="0.45" />
<rect x="372.16" y="79.94" width="12.27" height="116.56" fill="#0a64a2" stroke="#222" stroke-width="0.45" />
<rect x="384.44" y="81.06" width="12.27" height="115.44" fill="#ffc500" stroke="#222" stroke-width="0.45" />
<rect x="406.10" y="44.19" width="12.27" height="152.31" fill="#fe0000" stroke="#222" stroke-width="0.45" />
<rect x="418.37" y="56.23" width="12.27" height="140.27" fill="#0a64a2" stroke="#222" stroke-width="0.45" />
<rect x="430.64" y="47.04" width="12.27" height="149.46" fill="#ffc500" stroke="#222" stroke-width="0.45" />
<rect x="452.30" y="44.44" width="12.27" height="152.06" fill="#fe0000" stroke="#222" stroke-width="0.45" />
<rect x="464.57" y="56.23" width="12.27" height="140.27" fill="#0a64a2" stroke="#222" stroke-width="0.45" />
<rect x="476.84" y="47.04" width="12.27" height="149.46" fill="#ffc500" stroke="#222" stroke-width="0.45" />
<rect x="498.50" y="53.37" width="12.27" height="143.13" fill="#fe0000" stroke="#222" stroke-width="0.45" />
<rect x="510.76" y="53.37" width="12.27" height="143.13" fill="#0a64a2" stroke="#222" stroke-width="0.45" />
<rect x="523.03" y="50.64" width="12.27" height="145.86" fill="#ffc500" stroke="#222" stroke-width="0.45" />
<line x1="319.83" y1="112.21" x2="319.83" y2="113.45" stroke="#555" stroke-width="0.5" />
<line x1="318.23" y1="112.21" x2="321.43" y2="112.21" stroke="#555" stroke-width="0.5" />
<line x1="318.23" y1="113.45" x2="321.43" y2="113.45" stroke="#555" stroke-width="0.5" />
<line x1="332.10" y1="113.95" x2="332.10" y2="117.92" stroke="#555" stroke-width="0.5" />
<line x1="330.50" y1="113.95" x2="333.70" y2="113.95" stroke="#555" stroke-width="0.5" />
<line x1="330.50" y1="117.92" x2="333.70" y2="117.92" stroke="#555" stroke-width="0.5" />
<line x1="344.37" y1="105.51" x2="344.37" y2="106.50" stroke="#555" stroke-width="0.5" />
<line x1="342.77" y1="105.51" x2="345.97" y2="105.51" stroke="#555" stroke-width="0.5" />
<line x1="342.77" y1="106.50" x2="345.97" y2="106.50" stroke="#555" stroke-width="0.5" />
<line x1="366.03" y1="76.71" x2="366.03" y2="77.70" stroke="#555" stroke-width="0.5" />
<line x1="364.43" y1="76.71" x2="367.63" y2="76.71" stroke="#555" stroke-width="0.5" />
<line x1="364.43" y1="77.70" x2="367.63" y2="77.70" stroke="#555" stroke-width="0.5" />
<line x1="378.30" y1="79.44" x2="378.30" y2="80.44" stroke="#555" stroke-width="0.5" />
<line x1="376.70" y1="79.44" x2="379.90" y2="79.44" stroke="#555" stroke-width="0.5" />
<line x1="376.70" y1="80.44" x2="379.90" y2="80.44" stroke="#555" stroke-width="0.5" />
<line x1="390.57" y1="80.31" x2="390.57" y2="81.80" stroke="#555" stroke-width="0.5" />
<line x1="388.97" y1="80.31" x2="392.17" y2="80.31" stroke="#555" stroke-width="0.5" />
<line x1="388.97" y1="81.80" x2="392.17" y2="81.80" stroke="#555" stroke-width="0.5" />
<line x1="412.23" y1="43.69" x2="412.23" y2="44.68" stroke="#555" stroke-width="0.5" />
<line x1="410.63" y1="43.69" x2="413.83" y2="43.69" stroke="#555" stroke-width="0.5" />
<line x1="410.63" y1="44.68" x2="413.83" y2="44.68" stroke="#555" stroke-width="0.5" />
<line x1="424.50" y1="54.99" x2="424.50" y2="57.47" stroke="#555" stroke-width="0.5" />
<line x1="422.90" y1="54.99" x2="426.10" y2="54.99" stroke="#555" stroke-width="0.5" />
<line x1="422.90" y1="57.47" x2="426.10" y2="57.47" stroke="#555" stroke-width="0.5" />
<line x1="436.77" y1="46.55" x2="436.77" y2="47.54" stroke="#555" stroke-width="0.5" />
<line x1="435.17" y1="46.55" x2="438.37" y2="46.55" stroke="#555" stroke-width="0.5" />
<line x1="435.17" y1="47.54" x2="438.37" y2="47.54" stroke="#555" stroke-width="0.5" />
<line x1="458.43" y1="44.06" x2="458.43" y2="44.81" stroke="#555" stroke-width="0.5" />
<line x1="456.83" y1="44.06" x2="460.03" y2="44.06" stroke="#555" stroke-width="0.5" />
<line x1="456.83" y1="44.81" x2="460.03" y2="44.81" stroke="#555" stroke-width="0.5" />
<line x1="470.70" y1="55.73" x2="470.70" y2="56.73" stroke="#555" stroke-width="0.5" />
<line x1="469.10" y1="55.73" x2="472.30" y2="55.73" stroke="#555" stroke-width="0.5" />
<line x1="469.10" y1="56.73" x2="472.30" y2="56.73" stroke="#555" stroke-width="0.5" />
<line x1="482.97" y1="46.55" x2="482.97" y2="47.54" stroke="#555" stroke-width="0.5" />
<line x1="481.37" y1="46.55" x2="484.57" y2="46.55" stroke="#555" stroke-width="0.5" />
<line x1="481.37" y1="47.54" x2="484.57" y2="47.54" stroke="#555" stroke-width="0.5" />
<line x1="504.63" y1="53.00" x2="504.63" y2="53.75" stroke="#555" stroke-width="0.5" />
<line x1="503.03" y1="53.00" x2="506.23" y2="53.00" stroke="#555" stroke-width="0.5" />
<line x1="503.03" y1="53.75" x2="506.23" y2="53.75" stroke="#555" stroke-width="0.5" />
<line x1="516.90" y1="53.00" x2="516.90" y2="53.75" stroke="#555" stroke-width="0.5" />
<line x1="515.30" y1="53.00" x2="518.50" y2="53.00" stroke="#555" stroke-width="0.5" />
<line x1="515.30" y1="53.75" x2="518.50" y2="53.75" stroke="#555" stroke-width="0.5" />
<line x1="529.17" y1="50.15" x2="529.17" y2="51.14" stroke="#555" stroke-width="0.5" />
<line x1="527.57" y1="50.15" x2="530.77" y2="50.15" stroke="#555" stroke-width="0.5" />
<line x1="527.57" y1="51.14" x2="530.77" y2="51.14" stroke="#555" stroke-width="0.5" />
<text x="320.00" y="110.00" font-family='"Liberation Serif", serif' font-size="9.5" font-weight="bold" text-anchor="middle" fill="#000" >b</text>
<text x="332.10" y="111.60" font-family='"Liberation Serif", serif' font-size="9.5" font-weight="bold" text-anchor="middle" fill="#000" >b</text>
<text x="344.10" y="104.40" font-family='"Liberation Serif", serif' font-size="9.5" font-weight="bold" text-anchor="middle" fill="#000" >a</text>
<text x="365.80" y="74.80" font-family='"Liberation Serif", serif' font-size="9.5" font-weight="bold" text-anchor="middle" fill="#000" >a</text>
<text x="377.00" y="77.20" font-family='"Liberation Serif", serif' font-size="9.5" font-weight="bold" text-anchor="middle" fill="#000" >b</text>
<text x="388.00" y="78.80" font-family='"Liberation Serif", serif' font-size="9.5" font-weight="bold" text-anchor="middle" fill="#000" >b</text>
<text x="410.80" y="40.80" font-family='"Liberation Serif", serif' font-size="9.5" font-weight="bold" text-anchor="middle" fill="#000" >a</text>
<text x="423.30" y="51.60" font-family='"Liberation Serif", serif' font-size="9.5" font-weight="bold" text-anchor="middle" fill="#000" >c</text>
<text x="434.70" y="43.20" font-family='"Liberation Serif", serif' font-size="9.5" font-weight="bold" text-anchor="middle" fill="#000" >b</text>
<text x="457.00" y="40.20" font-family='"Liberation Serif", serif' font-size="9.5" font-weight="bold" text-anchor="middle" fill="#000" >a</text>
<text x="469.10" y="52.60" font-family='"Liberation Serif", serif' font-size="9.5" font-weight="bold" text-anchor="middle" fill="#000" >c</text>
<text x="483.10" y="43.60" font-family='"Liberation Serif", serif' font-size="9.5" font-weight="bold" text-anchor="middle" fill="#000" >b</text>
<text x="505.50" y="50.40" font-family='"Liberation Serif", serif' font-size="9.5" font-weight="bold" text-anchor="middle" fill="#000" >b</text>
<text x="517.30" y="48.40" font-family='"Liberation Serif", serif' font-size="9.5" font-weight="bold" text-anchor="middle" fill="#000" >b</text>
<text x="528.10" y="44.60" font-family='"Liberation Serif", serif' font-size="9.5" font-weight="bold" text-anchor="middle" fill="#000" >a</text>
<rect x="309.00" y="10.30" width="231.00" height="186.20" fill="none" stroke="#404040" stroke-width="1"/>
<line x1="305.50" y1="196.50" x2="309.00" y2="196.50" stroke="#404040" stroke-width="1" />
<text x="302.30" y="198.10" font-family='"Liberation Sans", sans-serif' font-size="7.2" font-weight="bold" text-anchor="end" fill="#111" stroke="#111" stroke-width="0.25">0</text>
<line x1="305.50" y1="134.43" x2="309.00" y2="134.43" stroke="#404040" stroke-width="1" />
<text x="302.30" y="136.03" font-family='"Liberation Sans", sans-serif' font-size="7.2" font-weight="bold" text-anchor="end" fill="#111" stroke="#111" stroke-width="0.25">50</text>
<line x1="305.50" y1="72.37" x2="309.00" y2="72.37" stroke="#404040" stroke-width="1" />
<text x="302.30" y="73.97" font-family='"Liberation Sans", sans-serif' font-size="7.2" font-weight="bold" text-anchor="end" fill="#111" stroke="#111" stroke-width="0.25">100</text>
<line x1="305.50" y1="10.30" x2="309.00" y2="10.30" stroke="#404040" stroke-width="1" />
<text x="302.30" y="11.90" font-family='"Liberation Sans", sans-serif' font-size="7.2" font-weight="bold" text-anchor="end" fill="#111" stroke="#111" stroke-width="0.25">150</text>
<line x1="307.40" y1="165.47" x2="309.00" y2="165.47" stroke="#404040" stroke-width="1" />
<line x1="307.40" y1="103.40" x2="309.00" y2="103.40" stroke="#404040" stroke-width="1" />
<line x1="307.40" y1="41.33" x2="309.00" y2="41.33" stroke="#404040" stroke-width="1" />
<line x1="332.10" y1="196.50" x2="332.10" y2="199.50" stroke="#404040" stroke-width="1" />
<line x1="355.20" y1="196.50" x2="355.20" y2="198.10" stroke="#404040" stroke-width="1" />
<line x1="378.30" y1="196.50" x2="378.30" y2="199.50" stroke="#404040" stroke-width="1" />
<line x1="401.40" y1="196.50" x2="401.40" y2="198.10" stroke="#404040" stroke-width="1" />
<line x1="424.50" y1="196.50" x2="424.50" y2="199.50" stroke="#404040" stroke-width="1" />
<line x1="447.60" y1="196.50" x2="447.60" y2="198.10" stroke="#404040" stroke-width="1" />
<line x1="470.70" y1="196.50" x2="470.70" y2="199.50" stroke="#404040" stroke-width="1" />
<line x1="493.80" y1="196.50" x2="493.80" y2="198.10" stroke="#404040" stroke-width="1" />
<line x1="516.90" y1="196.50" x2="516.90" y2="199.50" stroke="#404040" stroke-width="1" />
<text x="332.10" y="206.40" font-family='"Liberation Sans", sans-serif' font-size="7.6" font-weight="bold" text-anchor="middle" fill="#111" >Tillering</text>
<text x="378.30" y="206.40" font-family='"Liberation Sans", sans-serif' font-size="7.6" font-weight="bold" text-anchor="middle" fill="#111" >Jointing</text>
<text x="424.50" y="206.40" font-family='"Liberation Sans", sans-serif' font-size="7.6" font-weight="bold" text-anchor="middle" fill="#111" >Full heading</text>
<text x="470.70" y="206.40" font-family='"Liberation Sans", sans-serif' font-size="7.6" font-weight="bold" text-anchor="middle" fill="#111" >Filling stage</text>
<text x="516.90" y="206.40" font-family='"Liberation Sans", sans-serif' font-size="7.6" font-weight="bold" text-anchor="middle" fill="#111" >Mature stage</text>
<text x="0" y="0" transform="translate(287.30,103.20) rotate(-90)" font-family='"Liberation Sans", sans-serif' font-size="8.4" font-weight="bold" text-anchor="middle" fill="#111">Plant Height (cm)</text>
<rect x="514.30" y="16.30" width="21.50" height="20.60" fill="#fff" stroke="#b0b0b0" stroke-width="0.6" />
<rect x="515.10" y="17.30" width="11.50" height="5.60" fill="#fe0000" stroke="#333" stroke-width="0.5" />
<text x="528.00" y="22.12" font-family='"Liberation Sans", sans-serif' font-size="5.6" font-weight="normal" text-anchor="start" fill="#444" >S0</text>
<rect x="515.10" y="23.90" width="11.50" height="5.60" fill="#0a64a2" stroke="#333" stroke-width="0.5" />
<text x="528.00" y="28.72" font-family='"Liberation Sans", sans-serif' font-size="5.6" font-weight="normal" text-anchor="start" fill="#444" >S1</text>
<rect x="515.10" y="30.50" width="11.50" height="5.60" fill="#ffc500" stroke="#333" stroke-width="0.5" />
<text x="528.00" y="35.32" font-family='"Liberation Sans", sans-serif' font-size="5.6" font-weight="normal" text-anchor="start" fill="#444" >S2</text>
<rect x="45.91" y="291.09" width="15.45" height="109.11" fill="#fe0000" stroke="#222" stroke-width="0.45" />
<rect x="61.36" y="303.82" width="15.45" height="96.38" fill="#0a64a2" stroke="#222" stroke-width="0.45" />
<rect x="76.81" y="301.16" width="15.45" height="99.04" fill="#ffc500" stroke="#222" stroke-width="0.45" />
<rect x="104.09" y="246.09" width="15.45" height="154.11" fill="#fe0000" stroke="#222" stroke-width="0.45" />
<rect x="119.54" y="252.97" width="15.45" height="147.23" fill="#0a64a2" stroke="#222" stroke-width="0.45" />
<rect x="134.99" y="268.62" width="15.45" height="131.58" fill="#ffc500" stroke="#222" stroke-width="0.45" />
<rect x="162.26" y="252.35" width="15.45" height="147.85" fill="#fe0000" stroke="#222" stroke-width="0.45" />
<rect x="177.71" y="268.31" width="15.45" height="131.89" fill="#0a64a2" stroke="#222" stroke-width="0.45" />
<rect x="193.16" y="256.10" width="15.45" height="144.10" fill="#ffc500" stroke="#222" stroke-width="0.45" />
<rect x="220.44" y="252.35" width="15.45" height="147.85" fill="#fe0000" stroke="#222" stroke-width="0.45" />
<rect x="235.89" y="283.01" width="15.45" height="117.19" fill="#0a64a2" stroke="#222" stroke-width="0.45" />
<rect x="251.34" y="255.95" width="15.45" height="144.25" fill="#ffc500" stroke="#222" stroke-width="0.45" />
<line x1="53.64" y1="289.52" x2="53.64" y2="292.65" stroke="#555" stroke-width="0.5" />
<line x1="52.04" y1="289.52" x2="55.24" y2="289.52" stroke="#555" stroke-width="0.5" />
<line x1="52.04" y1="292.65" x2="55.24" y2="292.65" stroke="#555" stroke-width="0.5" />
<line x1="69.09" y1="298.81" x2="69.09" y2="308.83" stroke="#555" stroke-width="0.5" />
<line x1="67.49" y1="298.81" x2="70.69" y2="298.81" stroke="#555" stroke-width="0.5" />
<line x1="67.49" y1="308.83" x2="70.69" y2="308.83" stroke="#555" stroke-width="0.5" />
<line x1="84.54" y1="300.38" x2="84.54" y2="301.94" stroke="#555" stroke-width="0.5" />
<line x1="82.94" y1="300.38" x2="86.14" y2="300.38" stroke="#555" stroke-width="0.5" />
<line x1="82.94" y1="301.94" x2="86.14" y2="301.94" stroke="#555" stroke-width="0.5" />
<line x1="111.81" y1="245.46" x2="111.81" y2="246.71" stroke="#555" stroke-width="0.5" />
<line x1="110.21" y1="245.46" x2="113.41" y2="245.46" stroke="#555" stroke-width="0.5" />
<line x1="110.21" y1="246.71" x2="113.41" y2="246.71" stroke="#555" stroke-width="0.5" />
<line x1="127.26" y1="252.19" x2="127.26" y2="253.75" stroke="#555" stroke-width="0.5" />
<line x1="125.66" y1="252.19" x2="128.86" y2="252.19" stroke="#555" stroke-width="0.5" />
<line x1="125.66" y1="253.75" x2="128.86" y2="253.75" stroke="#555" stroke-width="0.5" />
<line x1="142.71" y1="266.43" x2="142.71" y2="270.81" stroke="#555" stroke-width="0.5" />
<line x1="141.11" y1="266.43" x2="144.31" y2="266.43" stroke="#555" stroke-width="0.5" />
<line x1="141.11" y1="270.81" x2="144.31" y2="270.81" stroke="#555" stroke-width="0.5" />
<line x1="169.99" y1="251.56" x2="169.99" y2="253.13" stroke="#555" stroke-width="0.5" />
<line x1="168.39" y1="251.56" x2="171.59" y2="251.56" stroke="#555" stroke-width="0.5" />
<line x1="168.39" y1="253.13" x2="171.59" y2="253.13" stroke="#555" stroke-width="0.5" />
<line x1="185.44" y1="264.24" x2="185.44" y2="272.37" stroke="#555" stroke-width="0.5" />
<line x1="183.84" y1="264.24" x2="187.04" y2="264.24" stroke="#555" stroke-width="0.5" />
<line x1="183.84" y1="272.37" x2="187.04" y2="272.37" stroke="#555" stroke-width="0.5" />
<line x1="200.89" y1="254.22" x2="200.89" y2="257.98" stroke="#555" stroke-width="0.5" />
<line x1="199.29" y1="254.22" x2="202.49" y2="254.22" stroke="#555" stroke-width="0.5" />
<line x1="199.29" y1="257.98" x2="202.49" y2="257.98" stroke="#555" stroke-width="0.5" />
<line x1="228.16" y1="251.56" x2="228.16" y2="253.13" stroke="#555" stroke-width="0.5" />
<line x1="226.56" y1="251.56" x2="229.76" y2="251.56" stroke="#555" stroke-width="0.5" />
<line x1="226.56" y1="253.13" x2="229.76" y2="253.13" stroke="#555" stroke-width="0.5" />
<line x1="243.61" y1="282.07" x2="243.61" y2="283.95" stroke="#555" stroke-width="0.5" />
<line x1="242.01" y1="282.07" x2="245.21" y2="282.07" stroke="#555" stroke-width="0.5" />
<line x1="242.01" y1="283.95" x2="245.21" y2="283.95" stroke="#555" stroke-width="0.5" />
<line x1="259.06" y1="253.44" x2="259.06" y2="258.45" stroke="#555" stroke-width="0.5" />
<line x1="257.46" y1="253.44" x2="260.66" y2="253.44" stroke="#555" stroke-width="0.5" />
<line x1="257.46" y1="258.45" x2="260.66" y2="258.45" stroke="#555" stroke-width="0.5" />
<text x="54.20" y="286.90" font-family='"Liberation Serif", serif' font-size="10.3" font-weight="bold" text-anchor="middle" fill="#000" >a</text>
<text x="69.20" y="296.70" font-family='"Liberation Serif", serif' font-size="10.3" font-weight="bold" text-anchor="middle" fill="#000" >b</text>
<text x="84.90" y="298.40" font-family='"Liberation Serif", serif' font-size="10.3" font-weight="bold" text-anchor="middle" fill="#000" >b</text>
<text x="111.90" y="242.10" font-family='"Liberation Serif", serif' font-size="10.3" font-weight="bold" text-anchor="middle" fill="#000" >a</text>
<text x="128.50" y="250.40" font-family='"Liberation Serif", serif' font-size="10.3" font-weight="bold" text-anchor="middle" fill="#000" >b</text>
<text x="143.50" y="264.60" font-family='"Liberation Serif", serif' font-size="10.3" font-weight="bold" text-anchor="middle" fill="#000" >c</text>
<text x="170.00" y="250.90" font-family='"Liberation Serif", serif' font-size="10.3" font-weight="bold" text-anchor="middle" fill="#000" >a</text>
<text x="186.10" y="263.80" font-family='"Liberation Serif", serif' font-size="10.3" font-weight="bold" text-anchor="middle" fill="#000" >b</text>
<text x="200.80" y="253.10" font-family='"Liberation Serif", serif' font-size="10.3" font-weight="bold" text-anchor="middle" fill="#000" >a</text>
<text x="227.40" y="248.70" font-family='"Liberation Serif", serif' font-size="10.3" font-weight="bold" text-anchor="middle" fill="#000" >a</text>
<text x="243.90" y="280.10" font-family='"Liberation Serif", serif' font-size="10.3" font-weight="bold" text-anchor="middle" fill="#000" >b</text>
<text x="258.90" y="252.00" font-family='"Liberation Serif", serif' font-size="10.3" font-weight="bold" text-anchor="middle" fill="#000" >a</text>
<rect x="40.00" y="212.45" width="232.70" height="187.75" fill="none" stroke="#404040" stroke-width="1"/>
<line x1="36.50" y1="400.20" x2="40.00" y2="400.20" stroke="#404040" stroke-width="1" />
<text x="34.00" y="401.80" font-family='"Liberation Sans", sans-serif' font-size="7.4" font-weight="bold" text-anchor="end" fill="#111" stroke="#111" stroke-width="0.25">0</text>
<line x1="36.50" y1="337.62" x2="40.00" y2="337.62" stroke="#404040" stroke-width="1" />
<text x="34.00" y="339.22" font-family='"Liberation Sans", sans-serif' font-size="7.4" font-weight="bold" text-anchor="end" fill="#111" stroke="#111" stroke-width="0.25">20</text>
<line x1="36.50" y1="275.03" x2="40.00" y2="275.03" stroke="#404040" stroke-width="1" />
<text x="34.00" y="276.63" font-family='"Liberation Sans", sans-serif' font-size="7.4" font-weight="bold" text-anchor="end" fill="#111" stroke="#111" stroke-width="0.25">40</text>
<line x1="36.50" y1="212.45" x2="40.00" y2="212.45" stroke="#404040" stroke-width="1" />
<text x="34.00" y="214.05" font-family='"Liberation Sans", sans-serif' font-size="7.4" font-weight="bold" text-anchor="end" fill="#111" stroke="#111" stroke-width="0.25">60</text>
<line x1="38.40" y1="368.91" x2="40.00" y2="368.91" stroke="#404040" stroke-width="1" />
<line x1="38.40" y1="306.32" x2="40.00" y2="306.32" stroke="#404040" stroke-width="1" />
<line x1="38.40" y1="243.74" x2="40.00" y2="243.74" stroke="#404040" stroke-width="1" />
<line x1="69.09" y1="400.20" x2="69.09" y2="403.20" stroke="#404040" stroke-width="1" />
<line x1="98.17" y1="400.20" x2="98.17" y2="401.80" stroke="#404040" stroke-width="1" />
<line x1="127.26" y1="400.20" x2="127.26" y2="403.20" stroke="#404040" stroke-width="1" />
<line x1="156.35" y1="400.20" x2="156.35" y2="401.80" stroke="#404040" stroke-width="1" />
<line x1="185.44" y1="400.20" x2="185.44" y2="403.20" stroke="#404040" stroke-width="1" />
<line x1="214.52" y1="400.20" x2="214.52" y2="401.80" stroke="#404040" stroke-width="1" />
<line x1="243.61" y1="400.20" x2="243.61" y2="403.20" stroke="#404040" stroke-width="1" />
<text x="69.09" y="411.00" font-family='"Liberation Sans", sans-serif' font-size="6.6" font-weight="bold" text-anchor="middle" fill="#111" >Tillering</text>
<text x="127.26" y="411.00" font-family='"Liberation Sans", sans-serif' font-size="6.6" font-weight="bold" text-anchor="middle" fill="#111" >Jointing</text>
<text x="185.44" y="411.00" font-family='"Liberation Sans", sans-serif' font-size="6.6" font-weight="bold" text-anchor="middle" fill="#111" >Full heading</text>
<text x="243.61" y="411.00" font-family='"Liberation Sans", sans-serif' font-size="6.6" font-weight="bold" text-anchor="middle" fill="#111" >Filling stage</text>
<text x="0" y="0" transform="translate(21.30,306.30) rotate(-90)" font-family='"Liberation Sans", sans-serif' font-size="7.2" font-weight="bold" text-anchor="middle" fill="#111">Leaf area (cm<tspan dy="-2.5" font-size="5">2</tspan><tspan dy="2.5">)</tspan></text>
<rect x="242.20" y="218.80" width="25.10" height="24.00" fill="#fff" stroke="#b0b0b0" stroke-width="0.6" />
<rect x="243.20" y="219.80" width="13.60" height="6.60" fill="#fe0000" stroke="#333" stroke-width="0.5" />
<text x="258.70" y="225.37" font-family='"Liberation Sans", sans-serif' font-size="6.3" font-weight="normal" text-anchor="start" fill="#444" >S0</text>
<rect x="243.20" y="227.50" width="13.60" height="6.60" fill="#0a64a2" stroke="#333" stroke-width="0.5" />
<text x="258.70" y="233.07" font-family='"Liberation Sans", sans-serif' font-size="6.3" font-weight="normal" text-anchor="start" fill="#444" >S1</text>
<rect x="243.20" y="235.10" width="13.60" height="6.60" fill="#ffc500" stroke="#333" stroke-width="0.5" />
<text x="258.70" y="240.67" font-family='"Liberation Sans", sans-serif' font-size="6.3" font-weight="normal" text-anchor="start" fill="#444" >S2</text>
<line x1="329.01" y1="367.94" x2="329.01" y2="375.16" stroke="#b8b8b8" stroke-width="0.6" />
<line x1="327.41" y1="367.94" x2="330.61" y2="367.94" stroke="#b8b8b8" stroke-width="0.6" />
<line x1="327.41" y1="375.16" x2="330.61" y2="375.16" stroke="#b8b8b8" stroke-width="0.6" />
<line x1="367.83" y1="334.92" x2="367.83" y2="346.02" stroke="#b8b8b8" stroke-width="0.6" />
<line x1="366.23" y1="334.92" x2="369.43" y2="334.92" stroke="#b8b8b8" stroke-width="0.6" />
<line x1="366.23" y1="346.02" x2="369.43" y2="346.02" stroke="#b8b8b8" stroke-width="0.6" />
<line x1="406.64" y1="315.50" x2="406.64" y2="347.69" stroke="#b8b8b8" stroke-width="0.6" />
<line x1="405.04" y1="315.50" x2="408.24" y2="315.50" stroke="#b8b8b8" stroke-width="0.6" />
<line x1="405.04" y1="347.69" x2="408.24" y2="347.69" stroke="#b8b8b8" stroke-width="0.6" />
<line x1="445.46" y1="248.90" x2="445.46" y2="303.29" stroke="#b8b8b8" stroke-width="0.6" />
<line x1="443.86" y1="248.90" x2="447.06" y2="248.90" stroke="#b8b8b8" stroke-width="0.6" />
<line x1="443.86" y1="303.29" x2="447.06" y2="303.29" stroke="#b8b8b8" stroke-width="0.6" />
<line x1="484.27" y1="310.50" x2="484.27" y2="340.47" stroke="#b8b8b8" stroke-width="0.6" />
<line x1="482.67" y1="310.50" x2="485.88" y2="310.50" stroke="#b8b8b8" stroke-width="0.6" />
<line x1="482.67" y1="340.47" x2="485.88" y2="340.47" stroke="#b8b8b8" stroke-width="0.6" />
<line x1="523.09" y1="308.84" x2="523.09" y2="339.92" stroke="#b8b8b8" stroke-width="0.6" />
<line x1="521.49" y1="308.84" x2="524.69" y2="308.84" stroke="#b8b8b8" stroke-width="0.6" />
<line x1="521.49" y1="339.92" x2="524.69" y2="339.92" stroke="#b8b8b8" stroke-width="0.6" />
<line x1="329.01" y1="363.45" x2="329.01" y2="370.11" stroke="#f7a0a4" stroke-width="0.6" />
<line x1="327.41" y1="363.45" x2="330.61" y2="363.45" stroke="#f7a0a4" stroke-width="0.6" />
<line x1="327.41" y1="370.11" x2="330.61" y2="370.11" stroke="#f7a0a4" stroke-width="0.6" />
<line x1="367.83" y1="319.10" x2="367.83" y2="330.20" stroke="#f7a0a4" stroke-width="0.6" />
<line x1="366.23" y1="319.10" x2="369.43" y2="319.10" stroke="#f7a0a4" stroke-width="0.6" />
<line x1="366.23" y1="330.20" x2="369.43" y2="330.20" stroke="#f7a0a4" stroke-width="0.6" />
<line x1="406.64" y1="307.17" x2="406.64" y2="326.04" stroke="#f7a0a4" stroke-width="0.6" />
<line x1="405.04" y1="307.17" x2="408.24" y2="307.17" stroke="#f7a0a4" stroke-width="0.6" />
<line x1="405.04" y1="326.04" x2="408.24" y2="326.04" stroke="#f7a0a4" stroke-width="0.6" />
<line x1="445.46" y1="272.76" x2="445.46" y2="304.95" stroke="#f7a0a4" stroke-width="0.6" />
<line x1="443.86" y1="272.76" x2="447.06" y2="272.76" stroke="#f7a0a4" stroke-width="0.6" />
<line x1="443.86" y1="304.95" x2="447.06" y2="304.95" stroke="#f7a0a4" stroke-width="0.6" />
<line x1="484.27" y1="307.73" x2="484.27" y2="332.14" stroke="#f7a0a4" stroke-width="0.6" />
<line x1="482.67" y1="307.73" x2="485.88" y2="307.73" stroke="#f7a0a4" stroke-width="0.6" />
<line x1="482.67" y1="332.14" x2="485.88" y2="332.14" stroke="#f7a0a4" stroke-width="0.6" />
<line x1="523.09" y1="311.61" x2="523.09" y2="327.15" stroke="#f7a0a4" stroke-width="0.6" />
<line x1="521.49" y1="311.61" x2="524.69" y2="311.61" stroke="#f7a0a4" stroke-width="0.6" />
<line x1="521.49" y1="327.15" x2="524.69" y2="327.15" stroke="#f7a0a4" stroke-width="0.6" />
<line x1="329.01" y1="354.35" x2="329.01" y2="364.34" stroke="#8fbcf5" stroke-width="0.6" />
<line x1="327.41" y1="354.35" x2="330.61" y2="354.35" stroke="#8fbcf5" stroke-width="0.6" />
<line x1="327.41" y1="364.34" x2="330.61" y2="364.34" stroke="#8fbcf5" stroke-width="0.6" />
<line x1="367.83" y1="319.38" x2="367.83" y2="338.25" stroke="#8fbcf5" stroke-width="0.6" />
<line x1="366.23" y1="319.38" x2="369.43" y2="319.38" stroke="#8fbcf5" stroke-width="0.6" />
<line x1="366.23" y1="338.25" x2="369.43" y2="338.25" stroke="#8fbcf5" stroke-width="0.6" />
<line x1="406.64" y1="292.46" x2="406.64" y2="340.19" stroke="#8fbcf5" stroke-width="0.6" />
<line x1="405.04" y1="292.46" x2="408.24" y2="292.46" stroke="#8fbcf5" stroke-width="0.6" />
<line x1="405.04" y1="340.19" x2="408.24" y2="340.19" stroke="#8fbcf5" stroke-width="0.6" />
<line x1="445.46" y1="233.91" x2="445.46" y2="281.64" stroke="#8fbcf5" stroke-width="0.6" />
<line x1="443.86" y1="233.91" x2="447.06" y2="233.91" stroke="#8fbcf5" stroke-width="0.6" />
<line x1="443.86" y1="281.64" x2="447.06" y2="281.64" stroke="#8fbcf5" stroke-width="0.6" />
<line x1="484.27" y1="283.31" x2="484.27" y2="324.38" stroke="#8fbcf5" stroke-width="0.6" />
<line x1="482.67" y1="283.31" x2="485.88" y2="283.31" stroke="#8fbcf5" stroke-width="0.6" />
<line x1="482.67" y1="324.38" x2="485.88" y2="324.38" stroke="#8fbcf5" stroke-width="0.6" />
<line x1="523.09" y1="281.09" x2="523.09" y2="327.70" stroke="#8fbcf5" stroke-width="0.6" />
<line x1="521.49" y1="281.09" x2="524.69" y2="281.09" stroke="#8fbcf5" stroke-width="0.6" />
<line x1="521.49" y1="327.70" x2="524.69" y2="327.70" stroke="#8fbcf5" stroke-width="0.6" />
<polyline points="329.01,371.55 367.83,340.47 406.64,331.59 445.46,276.09 484.27,325.49 523.09,324.38" fill="none" stroke="#404040" stroke-width="1.2"/>
<polyline points="329.01,366.78 367.83,324.65 406.64,316.61 445.46,288.86 484.27,319.94 523.09,319.38" fill="none" stroke="#f5303a" stroke-width="1.2"/>
<polyline points="329.01,359.34 367.83,328.81 406.64,316.33 445.46,257.77 484.27,303.84 523.09,304.39" fill="none" stroke="#1a6fe8" stroke-width="1.2"/>
<rect x="326.91" y="369.45" width="4.20" height="4.20" fill="#404040" stroke="none" stroke-width="0" />
<rect x="365.73" y="338.37" width="4.20" height="4.20" fill="#404040" stroke="none" stroke-width="0" />
<rect x="404.54" y="329.49" width="4.20" height="4.20" fill="#404040" stroke="none" stroke-width="0" />
<rect x="443.36" y="273.99" width="4.20" height="4.20" fill="#404040" stroke="none" stroke-width="0" />
<rect x="482.17" y="323.38" width="4.20" height="4.20" fill="#404040" stroke="none" stroke-width="0" />
<rect x="520.99" y="322.27" width="4.20" height="4.20" fill="#404040" stroke="none" stroke-width="0" />
<circle cx="329.01" cy="366.78" r="2.30" fill="#f5303a"/>
<circle cx="367.83" cy="324.65" r="2.30" fill="#f5303a"/>
<circle cx="406.64" cy="316.61" r="2.30" fill="#f5303a"/>
<circle cx="445.46" cy="288.86" r="2.30" fill="#f5303a"/>
<circle cx="484.27" cy="319.94" r="2.30" fill="#f5303a"/>
<circle cx="523.09" cy="319.38" r="2.30" fill="#f5303a"/>
<polygon points="329.01,356.74 331.51,361.14 326.51,361.14" fill="#1a6fe8"/>
<polygon points="367.83,326.21 370.33,330.62 365.33,330.62" fill="#1a6fe8"/>
<polygon points="406.64,313.73 409.14,318.13 404.14,318.13" fill="#1a6fe8"/>
<polygon points="445.46,255.17 447.96,259.57 442.96,259.57" fill="#1a6fe8"/>
<polygon points="484.27,301.24 486.77,305.64 481.77,305.64" fill="#1a6fe8"/>
<polygon points="523.09,301.79 525.59,306.19 520.59,306.19" fill="#1a6fe8"/>
<rect x="309.60" y="219.40" width="232.90" height="179.90" fill="none" stroke="#404040" stroke-width="1"/>
<line x1="306.10" y1="399.30" x2="309.60" y2="399.30" stroke="#404040" stroke-width="1" />
<text x="303.20" y="401.15" font-family='"Liberation Sans", sans-serif' font-size="7.5" font-weight="bold" text-anchor="end" fill="#111" stroke="#111" stroke-width="0.25">0</text>
<line x1="306.10" y1="371.55" x2="309.60" y2="371.55" stroke="#404040" stroke-width="1" />
<text x="303.20" y="373.40" font-family='"Liberation Sans", sans-serif' font-size="7.5" font-weight="bold" text-anchor="end" fill="#111" stroke="#111" stroke-width="0.25">5</text>
<line x1="306.10" y1="343.80" x2="309.60" y2="343.80" stroke="#404040" stroke-width="1" />
<text x="303.20" y="345.65" font-family='"Liberation Sans", sans-serif' font-size="7.5" font-weight="bold" text-anchor="end" fill="#111" stroke="#111" stroke-width="0.25">10</text>
<line x1="306.10" y1="316.05" x2="309.60" y2="316.05" stroke="#404040" stroke-width="1" />
<text x="303.20" y="317.90" font-family='"Liberation Sans", sans-serif' font-size="7.5" font-weight="bold" text-anchor="end" fill="#111" stroke="#111" stroke-width="0.25">15</text>
<line x1="306.10" y1="288.30" x2="309.60" y2="288.30" stroke="#404040" stroke-width="1" />
<text x="303.20" y="290.15" font-family='"Liberation Sans", sans-serif' font-size="7.5" font-weight="bold" text-anchor="end" fill="#111" stroke="#111" stroke-width="0.25">20</text>
<line x1="306.10" y1="260.55" x2="309.60" y2="260.55" stroke="#404040" stroke-width="1" />
<text x="303.20" y="262.40" font-family='"Liberation Sans", sans-serif' font-size="7.5" font-weight="bold" text-anchor="end" fill="#111" stroke="#111" stroke-width="0.25">25</text>
<line x1="306.10" y1="232.80" x2="309.60" y2="232.80" stroke="#404040" stroke-width="1" />
<text x="303.20" y="234.65" font-family='"Liberation Sans", sans-serif' font-size="7.5" font-weight="bold" text-anchor="end" fill="#111" stroke="#111" stroke-width="0.25">30</text>
<line x1="308.00" y1="385.43" x2="309.60" y2="385.43" stroke="#404040" stroke-width="1" />
<line x1="308.00" y1="357.68" x2="309.60" y2="357.68" stroke="#404040" stroke-width="1" />
<line x1="308.00" y1="329.93" x2="309.60" y2="329.93" stroke="#404040" stroke-width="1" />
<line x1="308.00" y1="302.18" x2="309.60" y2="302.18" stroke="#404040" stroke-width="1" />
<line x1="308.00" y1="274.43" x2="309.60" y2="274.43" stroke="#404040" stroke-width="1" />
<line x1="308.00" y1="246.68" x2="309.60" y2="246.68" stroke="#404040" stroke-width="1" />
<line x1="329.01" y1="399.30" x2="329.01" y2="402.30" stroke="#404040" stroke-width="1" />
<line x1="348.42" y1="399.30" x2="348.42" y2="400.90" stroke="#404040" stroke-width="1" />
<text x="329.01" y="410.70" font-family='"Liberation Sans", sans-serif' font-size="7.8" font-weight="bold" text-anchor="middle" fill="#111" stroke="#111" stroke-width="0.25">22</text>
<line x1="367.83" y1="399.30" x2="367.83" y2="402.30" stroke="#404040" stroke-width="1" />
<line x1="387.23" y1="399.30" x2="387.23" y2="400.90" stroke="#404040" stroke-width="1" />
<text x="367.83" y="410.70" font-family='"Liberation Sans", sans-serif' font-size="7.8" font-weight="bold" text-anchor="middle" fill="#111" stroke="#111" stroke-width="0.25">28</text>
<line x1="406.64" y1="399.30" x2="406.64" y2="402.30" stroke="#404040" stroke-width="1" />
<line x1="426.05" y1="399.30" x2="426.05" y2="400.90" stroke="#404040" stroke-width="1" />
<text x="406.64" y="410.70" font-family='"Liberation Sans", sans-serif' font-size="7.8" font-weight="bold" text-anchor="middle" fill="#111" stroke="#111" stroke-width="0.25">39</text>
<line x1="445.46" y1="399.30" x2="445.46" y2="402.30" stroke="#404040" stroke-width="1" />
<line x1="464.87" y1="399.30" x2="464.87" y2="400.90" stroke="#404040" stroke-width="1" />
<text x="445.46" y="410.70" font-family='"Liberation Sans", sans-serif' font-size="7.8" font-weight="bold" text-anchor="middle" fill="#111" stroke="#111" stroke-width="0.25">50</text>
<line x1="484.27" y1="399.30" x2="484.27" y2="402.30" stroke="#404040" stroke-width="1" />
<line x1="503.68" y1="399.30" x2="503.68" y2="400.90" stroke="#404040" stroke-width="1" />
<text x="484.27" y="410.70" font-family='"Liberation Sans", sans-serif' font-size="7.8" font-weight="bold" text-anchor="middle" fill="#111" stroke="#111" stroke-width="0.25">56</text>
<line x1="523.09" y1="399.30" x2="523.09" y2="402.30" stroke="#404040" stroke-width="1" />
<text x="523.09" y="410.70" font-family='"Liberation Sans", sans-serif' font-size="7.8" font-weight="bold" text-anchor="middle" fill="#111" stroke="#111" stroke-width="0.25">63</text>
<text x="414.40" y="423.30" font-family='"Liberation Sans", sans-serif' font-size="8.5" font-weight="bold" text-anchor="middle" fill="#111" >Days&#160; after transplanting</text>
<text x="0" y="0" transform="translate(291.3,314.8) rotate(-90)" font-family='"Liberation Sans", sans-serif' font-size="7.3" font-weight="bold" text-anchor="middle" fill="#111">The number of tillers (<tspan dx="0.6">×</tspan><tspan dx="0.4">10</tspan><tspan dy="-2.6" font-size="5.4">5</tspan><tspan dy="2.6">/hm</tspan><tspan dy="-2.6" font-size="5.4">2</tspan><tspan dy="2.6">)</tspan></text>
<rect x="517.00" y="223.00" width="21.70" height="20.20" fill="#fff" stroke="#b0b0b0" stroke-width="0.6" />
<line x1="517.60" y1="227.30" x2="529.70" y2="227.30" stroke="#404040" stroke-width="0.9" />
<rect x="521.90" y="225.31" width="3.99" height="3.99" fill="#404040" stroke="none" stroke-width="0" />
<text x="530.60" y="229.20" font-family='"Liberation Sans", sans-serif' font-size="5.3" font-weight="normal" text-anchor="start" fill="#444" >S0</text>
<line x1="517.60" y1="233.00" x2="529.70" y2="233.00" stroke="#f5303a" stroke-width="0.9" />
<circle cx="523.90" cy="233.00" r="2.18" fill="#f5303a"/>
<text x="530.60" y="234.90" font-family='"Liberation Sans", sans-serif' font-size="5.3" font-weight="normal" text-anchor="start" fill="#444" >S1</text>
<line x1="517.60" y1="239.40" x2="529.70" y2="239.40" stroke="#1a6fe8" stroke-width="0.9" />
<polygon points="523.90,236.93 526.27,241.11 521.52,241.11" fill="#1a6fe8"/>
<text x="530.60" y="241.30" font-family='"Liberation Sans", sans-serif' font-size="5.3" font-weight="normal" text-anchor="start" fill="#444" >S2</text>
</svg>
</body></html>
